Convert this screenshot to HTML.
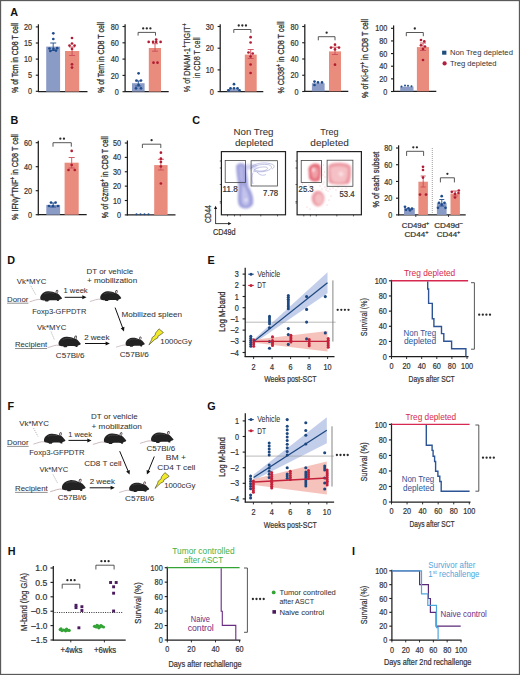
<!DOCTYPE html>
<html><head><meta charset="utf-8"><title>Figure</title>
<style>
html,body{margin:0;padding:0;background:#fff;}
body{width:520px;height:675px;overflow:hidden;}
svg{display:block;font-family:"Liberation Sans", sans-serif;}
text{font-family:"Liberation Sans", sans-serif;}
</style></head>
<body>
<svg width="520" height="675" viewBox="0 0 520 675">
<defs>
<filter id="bl1" x="-50%" y="-50%" width="200%" height="200%"><feGaussianBlur stdDeviation="1.6"/></filter>
<filter id="bl2" x="-50%" y="-50%" width="200%" height="200%"><feGaussianBlur stdDeviation="0.8"/></filter>
</defs>
<rect x="0" y="0" width="520" height="675" fill="#fff"/>
<text x="10.3" y="16.2" font-size="10.8" fill="#111" font-weight="bold" >A</text>
<line x1="38.4" y1="24.3" x2="38.4" y2="91.9" stroke="#1e1e1e" stroke-width="1.25" />
<line x1="35.8" y1="91.3" x2="38.4" y2="91.3" stroke="#1e1e1e" stroke-width="1.12" />
<text x="32.1" y="94.4" font-size="8.8" fill="#333" stroke="#333" stroke-width="0.22" text-anchor="end" textLength="4.05" lengthAdjust="spacingAndGlyphs" >0</text>
<line x1="35.8" y1="75.2" x2="38.4" y2="75.2" stroke="#1e1e1e" stroke-width="1.12" />
<text x="32.1" y="78.3" font-size="8.8" fill="#333" stroke="#333" stroke-width="0.22" text-anchor="end" textLength="4.05" lengthAdjust="spacingAndGlyphs" >5</text>
<line x1="35.8" y1="59.1" x2="38.4" y2="59.1" stroke="#1e1e1e" stroke-width="1.12" />
<text x="32.1" y="62.2" font-size="8.8" fill="#333" stroke="#333" stroke-width="0.22" text-anchor="end" textLength="8.1" lengthAdjust="spacingAndGlyphs" >10</text>
<line x1="35.8" y1="43" x2="38.4" y2="43" stroke="#1e1e1e" stroke-width="1.12" />
<text x="32.1" y="46.1" font-size="8.8" fill="#333" stroke="#333" stroke-width="0.22" text-anchor="end" textLength="8.1" lengthAdjust="spacingAndGlyphs" >15</text>
<line x1="35.8" y1="26.9" x2="38.4" y2="26.9" stroke="#1e1e1e" stroke-width="1.12" />
<text x="32.1" y="30" font-size="8.8" fill="#333" stroke="#333" stroke-width="0.22" text-anchor="end" textLength="8.1" lengthAdjust="spacingAndGlyphs" >20</text>
<line x1="37.9" y1="91.6" x2="87.5" y2="91.6" stroke="#1e1e1e" stroke-width="1.25" />
<rect x="46.2" y="46.6" width="13.9" height="45" fill="#8a9bc6" />
<rect x="65" y="51" width="14.2" height="40.6" fill="#e98b7d" />
<line x1="53.2" y1="50.5" x2="53.2" y2="43" stroke="#1f4c8c" stroke-width="0.9" />
<line x1="50.2" y1="43" x2="56.2" y2="43" stroke="#1f4c8c" stroke-width="0.9" />
<line x1="50.2" y1="50.5" x2="56.2" y2="50.5" stroke="#1f4c8c" stroke-width="0.9" />
<line x1="72.1" y1="55.5" x2="72.1" y2="47" stroke="#cc4d5a" stroke-width="0.9" />
<line x1="69.1" y1="47" x2="75.1" y2="47" stroke="#cc4d5a" stroke-width="0.9" />
<line x1="69.1" y1="55.5" x2="75.1" y2="55.5" stroke="#cc4d5a" stroke-width="0.9" />
<circle cx="53.3" cy="33.3" r="1.35" fill="#1f4c8c"/>
<circle cx="53.3" cy="39" r="1.35" fill="#1f4c8c"/>
<circle cx="49.5" cy="48.5" r="1.35" fill="#1f4c8c"/>
<circle cx="53.5" cy="49" r="1.35" fill="#1f4c8c"/>
<circle cx="57.2" cy="48.2" r="1.35" fill="#1f4c8c"/>
<circle cx="50.3" cy="51" r="1.35" fill="#1f4c8c"/>
<circle cx="56" cy="50.6" r="1.35" fill="#1f4c8c"/>
<circle cx="72" cy="38" r="1.35" fill="#b01d33"/>
<circle cx="72" cy="43.5" r="1.35" fill="#b01d33"/>
<circle cx="69.5" cy="45.6" r="1.35" fill="#b01d33"/>
<circle cx="74.6" cy="45.6" r="1.35" fill="#b01d33"/>
<circle cx="72" cy="49" r="1.35" fill="#b01d33"/>
<circle cx="72" cy="64.3" r="1.35" fill="#b01d33"/>
<circle cx="72" cy="67.6" r="1.35" fill="#b01d33"/>
<text x="17.8" y="58" font-size="9.6" fill="#333" stroke="#333" stroke-width="0.32" text-anchor="middle" textLength="70" lengthAdjust="spacingAndGlyphs" transform="rotate(-90 17.8 58)" >% of Tcm in CD8 T cell</text>
<line x1="125.1" y1="24.2" x2="125.1" y2="92.1" stroke="#1e1e1e" stroke-width="1.25" />
<line x1="122.5" y1="91.7" x2="125.1" y2="91.7" stroke="#1e1e1e" stroke-width="1.12" />
<text x="118.8" y="94.8" font-size="8.8" fill="#333" stroke="#333" stroke-width="0.22" text-anchor="end" textLength="4.05" lengthAdjust="spacingAndGlyphs" >0</text>
<line x1="122.5" y1="75.4" x2="125.1" y2="75.4" stroke="#1e1e1e" stroke-width="1.12" />
<text x="118.8" y="78.5" font-size="8.8" fill="#333" stroke="#333" stroke-width="0.22" text-anchor="end" textLength="8.1" lengthAdjust="spacingAndGlyphs" >20</text>
<line x1="122.5" y1="59.1" x2="125.1" y2="59.1" stroke="#1e1e1e" stroke-width="1.12" />
<text x="118.8" y="62.2" font-size="8.8" fill="#333" stroke="#333" stroke-width="0.22" text-anchor="end" textLength="8.1" lengthAdjust="spacingAndGlyphs" >40</text>
<line x1="122.5" y1="42.8" x2="125.1" y2="42.8" stroke="#1e1e1e" stroke-width="1.12" />
<text x="118.8" y="45.9" font-size="8.8" fill="#333" stroke="#333" stroke-width="0.22" text-anchor="end" textLength="8.1" lengthAdjust="spacingAndGlyphs" >60</text>
<line x1="122.5" y1="26.5" x2="125.1" y2="26.5" stroke="#1e1e1e" stroke-width="1.12" />
<text x="118.8" y="29.6" font-size="8.8" fill="#333" stroke="#333" stroke-width="0.22" text-anchor="end" textLength="8.1" lengthAdjust="spacingAndGlyphs" >80</text>
<line x1="124.8" y1="91.6" x2="168.7" y2="91.6" stroke="#1e1e1e" stroke-width="1.25" />
<rect x="132" y="83.2" width="12.6" height="8.4" fill="#8a9bc6" />
<rect x="148.8" y="48" width="12.2" height="43.6" fill="#e98b7d" />
<line x1="155" y1="51.2" x2="155" y2="43.7" stroke="#cc4d5a" stroke-width="0.9" />
<line x1="152" y1="43.7" x2="158" y2="43.7" stroke="#cc4d5a" stroke-width="0.9" />
<line x1="152" y1="51.2" x2="158" y2="51.2" stroke="#cc4d5a" stroke-width="0.9" />
<line x1="138.3" y1="86" x2="138.3" y2="81" stroke="#1f4c8c" stroke-width="0.9" />
<line x1="135.3" y1="81" x2="141.3" y2="81" stroke="#1f4c8c" stroke-width="0.9" />
<line x1="135.3" y1="86" x2="141.3" y2="86" stroke="#1f4c8c" stroke-width="0.9" />
<circle cx="148.7" cy="41.9" r="1.35" fill="#b01d33"/>
<circle cx="153.1" cy="41.9" r="1.35" fill="#b01d33"/>
<circle cx="156.2" cy="41.9" r="1.35" fill="#b01d33"/>
<circle cx="160.6" cy="41.9" r="1.35" fill="#b01d33"/>
<circle cx="156.2" cy="39.6" r="1.35" fill="#b01d33"/>
<circle cx="153.5" cy="62.7" r="1.35" fill="#b01d33"/>
<circle cx="157.5" cy="62.7" r="1.35" fill="#b01d33"/>
<circle cx="138.6" cy="73.3" r="1.35" fill="#1f4c8c"/>
<circle cx="136.5" cy="80.5" r="1.35" fill="#1f4c8c"/>
<circle cx="141" cy="80.5" r="1.35" fill="#1f4c8c"/>
<circle cx="138.6" cy="85" r="1.35" fill="#1f4c8c"/>
<circle cx="136" cy="88.3" r="1.35" fill="#1f4c8c"/>
<circle cx="141" cy="88.3" r="1.35" fill="#1f4c8c"/>
<polyline points="138.1,35.6 138.1,32.4 155.5,32.4 155.5,35.6" fill="none" stroke="#444" stroke-width="0.9" />
<circle cx="143.2" cy="28.4" r="1.15" fill="#2a2a2a"/>
<circle cx="146.8" cy="28.4" r="1.15" fill="#2a2a2a"/>
<circle cx="150.4" cy="28.4" r="1.15" fill="#2a2a2a"/>
<text x="104.4" y="57.5" font-size="9.6" fill="#333" stroke="#333" stroke-width="0.32" text-anchor="middle" textLength="71" lengthAdjust="spacingAndGlyphs" transform="rotate(-90 104.4 57.5)" >% of Tem in CD8 T cell</text>
<line x1="220.2" y1="24.3" x2="220.2" y2="92" stroke="#1e1e1e" stroke-width="1.25" />
<line x1="217.6" y1="91.6" x2="220.2" y2="91.6" stroke="#1e1e1e" stroke-width="1.12" />
<text x="213.9" y="94.7" font-size="8.8" fill="#333" stroke="#333" stroke-width="0.22" text-anchor="end" textLength="4.05" lengthAdjust="spacingAndGlyphs" >0</text>
<line x1="217.6" y1="69.9" x2="220.2" y2="69.9" stroke="#1e1e1e" stroke-width="1.12" />
<text x="213.9" y="73" font-size="8.8" fill="#333" stroke="#333" stroke-width="0.22" text-anchor="end" textLength="8.1" lengthAdjust="spacingAndGlyphs" >10</text>
<line x1="217.6" y1="48.2" x2="220.2" y2="48.2" stroke="#1e1e1e" stroke-width="1.12" />
<text x="213.9" y="51.3" font-size="8.8" fill="#333" stroke="#333" stroke-width="0.22" text-anchor="end" textLength="8.1" lengthAdjust="spacingAndGlyphs" >20</text>
<line x1="217.6" y1="26.5" x2="220.2" y2="26.5" stroke="#1e1e1e" stroke-width="1.12" />
<text x="213.9" y="29.6" font-size="8.8" fill="#333" stroke="#333" stroke-width="0.22" text-anchor="end" textLength="8.1" lengthAdjust="spacingAndGlyphs" >30</text>
<line x1="219.7" y1="91.5" x2="263.3" y2="91.5" stroke="#1e1e1e" stroke-width="1.25" />
<rect x="226.9" y="89.2" width="13.3" height="2.3" fill="#8a9bc6" />
<rect x="244.8" y="54.6" width="11.9" height="36.9" fill="#e98b7d" />
<line x1="250.7" y1="58.5" x2="250.7" y2="49.5" stroke="#cc4d5a" stroke-width="0.9" />
<line x1="247.7" y1="49.5" x2="253.7" y2="49.5" stroke="#cc4d5a" stroke-width="0.9" />
<line x1="247.7" y1="58.5" x2="253.7" y2="58.5" stroke="#cc4d5a" stroke-width="0.9" />
<circle cx="250.6" cy="37.2" r="1.35" fill="#b01d33"/>
<circle cx="250.6" cy="42.5" r="1.35" fill="#b01d33"/>
<circle cx="248.5" cy="52.5" r="1.35" fill="#b01d33"/>
<circle cx="252.7" cy="53.5" r="1.35" fill="#b01d33"/>
<circle cx="250.6" cy="56.5" r="1.35" fill="#b01d33"/>
<circle cx="250.6" cy="64.5" r="1.35" fill="#b01d33"/>
<circle cx="250.6" cy="73" r="1.35" fill="#b01d33"/>
<circle cx="234" cy="84.2" r="1.35" fill="#1f4c8c"/>
<circle cx="230.5" cy="88.3" r="1.35" fill="#1f4c8c"/>
<circle cx="234" cy="88.3" r="1.35" fill="#1f4c8c"/>
<circle cx="237.5" cy="88.3" r="1.35" fill="#1f4c8c"/>
<circle cx="228.5" cy="90.4" r="1.35" fill="#1f4c8c"/>
<circle cx="239.5" cy="90.4" r="1.35" fill="#1f4c8c"/>
<polyline points="233.8,32.9 233.8,29.5 250.9,29.5 250.9,32.9" fill="none" stroke="#444" stroke-width="0.9" />
<circle cx="238.75" cy="25.5" r="1.15" fill="#2a2a2a"/>
<circle cx="242.35" cy="25.5" r="1.15" fill="#2a2a2a"/>
<circle cx="245.95" cy="25.5" r="1.15" fill="#2a2a2a"/>
<text x="189.6" y="57.8" font-size="9.6" fill="#333" stroke="#333" stroke-width="0.22" text-anchor="middle" textLength="69" lengthAdjust="spacingAndGlyphs" transform="rotate(-90 189.6 57.8)" >% of DNAM-1<tspan baseline-shift="super" font-size="70%">+</tspan>TIGIT<tspan baseline-shift="super" font-size="70%">+</tspan></text>
<text x="199.8" y="57.8" font-size="9.6" fill="#333" stroke="#333" stroke-width="0.22" text-anchor="middle" textLength="40.8" lengthAdjust="spacingAndGlyphs" transform="rotate(-90 199.8 57.8)" >in CD8 T cell</text>
<line x1="304.8" y1="24.3" x2="304.8" y2="91.9" stroke="#1e1e1e" stroke-width="1.25" />
<line x1="302.2" y1="91.5" x2="304.8" y2="91.5" stroke="#1e1e1e" stroke-width="1.12" />
<text x="298.5" y="94.6" font-size="8.8" fill="#333" stroke="#333" stroke-width="0.22" text-anchor="end" textLength="4.05" lengthAdjust="spacingAndGlyphs" >0</text>
<line x1="302.2" y1="75.25" x2="304.8" y2="75.25" stroke="#1e1e1e" stroke-width="1.12" />
<text x="298.5" y="78.35" font-size="8.8" fill="#333" stroke="#333" stroke-width="0.22" text-anchor="end" textLength="8.1" lengthAdjust="spacingAndGlyphs" >20</text>
<line x1="302.2" y1="59" x2="304.8" y2="59" stroke="#1e1e1e" stroke-width="1.12" />
<text x="298.5" y="62.1" font-size="8.8" fill="#333" stroke="#333" stroke-width="0.22" text-anchor="end" textLength="8.1" lengthAdjust="spacingAndGlyphs" >40</text>
<line x1="302.2" y1="42.75" x2="304.8" y2="42.75" stroke="#1e1e1e" stroke-width="1.12" />
<text x="298.5" y="45.85" font-size="8.8" fill="#333" stroke="#333" stroke-width="0.22" text-anchor="end" textLength="8.1" lengthAdjust="spacingAndGlyphs" >60</text>
<line x1="302.2" y1="26.5" x2="304.8" y2="26.5" stroke="#1e1e1e" stroke-width="1.12" />
<text x="298.5" y="29.6" font-size="8.8" fill="#333" stroke="#333" stroke-width="0.22" text-anchor="end" textLength="8.1" lengthAdjust="spacingAndGlyphs" >80</text>
<line x1="304.3" y1="91.3" x2="348.3" y2="91.3" stroke="#1e1e1e" stroke-width="1.25" />
<rect x="311.9" y="83.2" width="12.7" height="8.1" fill="#8a9bc6" />
<rect x="329" y="51.4" width="12" height="39.9" fill="#e98b7d" />
<line x1="335" y1="54.5" x2="335" y2="47.2" stroke="#cc4d5a" stroke-width="0.9" />
<line x1="332" y1="47.2" x2="338" y2="47.2" stroke="#cc4d5a" stroke-width="0.9" />
<line x1="332" y1="54.5" x2="338" y2="54.5" stroke="#cc4d5a" stroke-width="0.9" />
<circle cx="335" cy="44.7" r="1.35" fill="#b01d33"/>
<circle cx="331" cy="47.6" r="1.35" fill="#b01d33"/>
<circle cx="335" cy="49.4" r="1.35" fill="#b01d33"/>
<circle cx="339" cy="47.6" r="1.35" fill="#b01d33"/>
<circle cx="335" cy="64.7" r="1.35" fill="#b01d33"/>
<circle cx="314.5" cy="81.6" r="1.35" fill="#1f4c8c"/>
<circle cx="318" cy="82.4" r="1.35" fill="#1f4c8c"/>
<circle cx="322" cy="82.4" r="1.35" fill="#1f4c8c"/>
<circle cx="314.5" cy="85" r="1.35" fill="#1f4c8c"/>
<polyline points="318.3,40.3 318.3,36.7 335,36.7 335,40.3" fill="none" stroke="#444" stroke-width="0.9" />
<circle cx="326.65" cy="32.7" r="1.15" fill="#2a2a2a"/>
<text x="284.4" y="57.5" font-size="9.6" fill="#333" stroke="#333" stroke-width="0.32" text-anchor="middle" textLength="72" lengthAdjust="spacingAndGlyphs" transform="rotate(-90 284.4 57.5)" >% CD38<tspan baseline-shift="super" font-size="70%">+</tspan> in CD8 T cell</text>
<line x1="393.6" y1="25.4" x2="393.6" y2="91.9" stroke="#1e1e1e" stroke-width="1.25" />
<line x1="391" y1="91.5" x2="393.6" y2="91.5" stroke="#1e1e1e" stroke-width="1.12" />
<text x="387.3" y="94.6" font-size="8.8" fill="#333" stroke="#333" stroke-width="0.22" text-anchor="end" textLength="4.05" lengthAdjust="spacingAndGlyphs" >0</text>
<line x1="391" y1="78.86" x2="393.6" y2="78.86" stroke="#1e1e1e" stroke-width="1.12" />
<text x="387.3" y="81.96" font-size="8.8" fill="#333" stroke="#333" stroke-width="0.22" text-anchor="end" textLength="8.1" lengthAdjust="spacingAndGlyphs" >20</text>
<line x1="391" y1="66.22" x2="393.6" y2="66.22" stroke="#1e1e1e" stroke-width="1.12" />
<text x="387.3" y="69.32" font-size="8.8" fill="#333" stroke="#333" stroke-width="0.22" text-anchor="end" textLength="8.1" lengthAdjust="spacingAndGlyphs" >40</text>
<line x1="391" y1="53.58" x2="393.6" y2="53.58" stroke="#1e1e1e" stroke-width="1.12" />
<text x="387.3" y="56.68" font-size="8.8" fill="#333" stroke="#333" stroke-width="0.22" text-anchor="end" textLength="8.1" lengthAdjust="spacingAndGlyphs" >60</text>
<line x1="391" y1="40.94" x2="393.6" y2="40.94" stroke="#1e1e1e" stroke-width="1.12" />
<text x="387.3" y="44.04" font-size="8.8" fill="#333" stroke="#333" stroke-width="0.22" text-anchor="end" textLength="8.1" lengthAdjust="spacingAndGlyphs" >80</text>
<line x1="391" y1="28.3" x2="393.6" y2="28.3" stroke="#1e1e1e" stroke-width="1.12" />
<text x="387.3" y="31.4" font-size="8.8" fill="#333" stroke="#333" stroke-width="0.22" text-anchor="end" textLength="12.15" lengthAdjust="spacingAndGlyphs" >100</text>
<line x1="393.3" y1="91.3" x2="436.3" y2="91.3" stroke="#1e1e1e" stroke-width="1.25" />
<rect x="400.2" y="86.7" width="13.3" height="4.6" fill="#8a9bc6" />
<rect x="416.9" y="47.1" width="12.1" height="44.2" fill="#e98b7d" />
<line x1="423" y1="50.5" x2="423" y2="43" stroke="#cc4d5a" stroke-width="0.9" />
<line x1="420" y1="43" x2="426" y2="43" stroke="#cc4d5a" stroke-width="0.9" />
<line x1="420" y1="50.5" x2="426" y2="50.5" stroke="#cc4d5a" stroke-width="0.9" />
<circle cx="421" cy="40" r="1.35" fill="#b01d33"/>
<circle cx="424.3" cy="41.4" r="1.35" fill="#b01d33"/>
<circle cx="421" cy="45.3" r="1.35" fill="#b01d33"/>
<circle cx="425" cy="46.5" r="1.35" fill="#b01d33"/>
<circle cx="423" cy="49" r="1.35" fill="#b01d33"/>
<circle cx="423" cy="60" r="1.35" fill="#b01d33"/>
<circle cx="401.5" cy="86.4" r="1" fill="#1f4c8c"/>
<circle cx="405" cy="85.4" r="1" fill="#1f4c8c"/>
<circle cx="408" cy="85.8" r="1" fill="#1f4c8c"/>
<circle cx="411.5" cy="86.2" r="1" fill="#1f4c8c"/>
<polyline points="406.3,36.2 406.3,32.5 423.3,32.5 423.3,36.2" fill="none" stroke="#444" stroke-width="0.9" />
<circle cx="414.8" cy="28.5" r="1.15" fill="#2a2a2a"/>
<text x="368.4" y="58.5" font-size="9.6" fill="#333" stroke="#333" stroke-width="0.32" text-anchor="middle" textLength="79" lengthAdjust="spacingAndGlyphs" transform="rotate(-90 368.4 58.5)" >% of Ki-67<tspan baseline-shift="super" font-size="70%">+</tspan> in CD8 T cell</text>
<rect x="442.1" y="50.7" width="4.3" height="4" fill="#1d4e7e" />
<text x="449.9" y="55.3" font-size="7.6" fill="#333" textLength="63" lengthAdjust="spacingAndGlyphs" >Non Treg depleted</text>
<circle cx="444.6" cy="63.4" r="2.1" fill="#b01f3c"/>
<text x="449.9" y="65.7" font-size="7.6" fill="#333" textLength="46.7" lengthAdjust="spacingAndGlyphs" >Treg depleted</text>
<text x="10.4" y="124.2" font-size="10.8" fill="#111" font-weight="bold" >B</text>
<line x1="38.3" y1="140.7" x2="38.3" y2="215.2" stroke="#1e1e1e" stroke-width="1.25" />
<line x1="35.7" y1="214.7" x2="38.3" y2="214.7" stroke="#1e1e1e" stroke-width="1.12" />
<text x="32" y="217.8" font-size="8.8" fill="#333" stroke="#333" stroke-width="0.22" text-anchor="end" textLength="4.05" lengthAdjust="spacingAndGlyphs" >0</text>
<line x1="35.7" y1="190.7" x2="38.3" y2="190.7" stroke="#1e1e1e" stroke-width="1.12" />
<text x="32" y="193.8" font-size="8.8" fill="#333" stroke="#333" stroke-width="0.22" text-anchor="end" textLength="8.1" lengthAdjust="spacingAndGlyphs" >20</text>
<line x1="35.7" y1="166.7" x2="38.3" y2="166.7" stroke="#1e1e1e" stroke-width="1.12" />
<text x="32" y="169.8" font-size="8.8" fill="#333" stroke="#333" stroke-width="0.22" text-anchor="end" textLength="8.1" lengthAdjust="spacingAndGlyphs" >40</text>
<line x1="35.7" y1="142.7" x2="38.3" y2="142.7" stroke="#1e1e1e" stroke-width="1.12" />
<text x="32" y="145.8" font-size="8.8" fill="#333" stroke="#333" stroke-width="0.22" text-anchor="end" textLength="8.1" lengthAdjust="spacingAndGlyphs" >60</text>
<line x1="37.8" y1="214.7" x2="86.7" y2="214.7" stroke="#1e1e1e" stroke-width="1.25" />
<rect x="46.3" y="204.9" width="13.8" height="9.8" fill="#8a9bc6" />
<rect x="64.6" y="162.7" width="14.1" height="52" fill="#e98b7d" />
<line x1="71.7" y1="168" x2="71.7" y2="157.5" stroke="#cc4d5a" stroke-width="0.9" />
<line x1="68.7" y1="157.5" x2="74.7" y2="157.5" stroke="#cc4d5a" stroke-width="0.9" />
<line x1="68.7" y1="168" x2="74.7" y2="168" stroke="#cc4d5a" stroke-width="0.9" />
<line x1="53.2" y1="207" x2="53.2" y2="203" stroke="#1f4c8c" stroke-width="0.9" />
<line x1="50.2" y1="203" x2="56.2" y2="203" stroke="#1f4c8c" stroke-width="0.9" />
<line x1="50.2" y1="207" x2="56.2" y2="207" stroke="#1f4c8c" stroke-width="0.9" />
<circle cx="71.7" cy="150.9" r="1.35" fill="#b01d33"/>
<circle cx="71.7" cy="165" r="1.35" fill="#b01d33"/>
<circle cx="68.5" cy="170" r="1.35" fill="#b01d33"/>
<circle cx="74.8" cy="170" r="1.35" fill="#b01d33"/>
<circle cx="51" cy="202.5" r="1.35" fill="#1f4c8c"/>
<circle cx="55.6" cy="202.5" r="1.35" fill="#1f4c8c"/>
<circle cx="49" cy="206" r="1.35" fill="#1f4c8c"/>
<circle cx="53" cy="206" r="1.35" fill="#1f4c8c"/>
<circle cx="58" cy="206" r="1.35" fill="#1f4c8c"/>
<polyline points="53,146.7 53,142.7 71.3,142.7 71.3,146.7" fill="none" stroke="#444" stroke-width="0.9" />
<circle cx="60.35" cy="138.7" r="1.15" fill="#2a2a2a"/>
<circle cx="63.95" cy="138.7" r="1.15" fill="#2a2a2a"/>
<text x="18.2" y="177" font-size="9.6" fill="#333" stroke="#333" stroke-width="0.32" text-anchor="middle" textLength="85.8" lengthAdjust="spacingAndGlyphs" transform="rotate(-90 18.2 177)" >% IFNγ<tspan baseline-shift="super" font-size="70%">+</tspan>TNF<tspan baseline-shift="super" font-size="70%">+</tspan> in CD8 T cell</text>
<line x1="127.4" y1="140.5" x2="127.4" y2="215.4" stroke="#1e1e1e" stroke-width="1.25" />
<line x1="124.8" y1="214.9" x2="127.4" y2="214.9" stroke="#1e1e1e" stroke-width="1.12" />
<text x="121.1" y="218" font-size="8.8" fill="#333" stroke="#333" stroke-width="0.22" text-anchor="end" textLength="4.05" lengthAdjust="spacingAndGlyphs" >0</text>
<line x1="124.8" y1="200.52" x2="127.4" y2="200.52" stroke="#1e1e1e" stroke-width="1.12" />
<text x="121.1" y="203.62" font-size="8.8" fill="#333" stroke="#333" stroke-width="0.22" text-anchor="end" textLength="8.1" lengthAdjust="spacingAndGlyphs" >10</text>
<line x1="124.8" y1="186.14" x2="127.4" y2="186.14" stroke="#1e1e1e" stroke-width="1.12" />
<text x="121.1" y="189.24" font-size="8.8" fill="#333" stroke="#333" stroke-width="0.22" text-anchor="end" textLength="8.1" lengthAdjust="spacingAndGlyphs" >20</text>
<line x1="124.8" y1="171.76" x2="127.4" y2="171.76" stroke="#1e1e1e" stroke-width="1.12" />
<text x="121.1" y="174.86" font-size="8.8" fill="#333" stroke="#333" stroke-width="0.22" text-anchor="end" textLength="8.1" lengthAdjust="spacingAndGlyphs" >30</text>
<line x1="124.8" y1="157.38" x2="127.4" y2="157.38" stroke="#1e1e1e" stroke-width="1.12" />
<text x="121.1" y="160.48" font-size="8.8" fill="#333" stroke="#333" stroke-width="0.22" text-anchor="end" textLength="8.1" lengthAdjust="spacingAndGlyphs" >40</text>
<line x1="124.8" y1="143" x2="127.4" y2="143" stroke="#1e1e1e" stroke-width="1.12" />
<text x="121.1" y="146.1" font-size="8.8" fill="#333" stroke="#333" stroke-width="0.22" text-anchor="end" textLength="8.1" lengthAdjust="spacingAndGlyphs" >50</text>
<line x1="126.9" y1="214.9" x2="175.5" y2="214.9" stroke="#1e1e1e" stroke-width="1.25" />
<rect x="154.2" y="165.1" width="13.4" height="49.8" fill="#e98b7d" />
<line x1="160.9" y1="170" x2="160.9" y2="159.3" stroke="#cc4d5a" stroke-width="0.9" />
<line x1="157.9" y1="159.3" x2="163.9" y2="159.3" stroke="#cc4d5a" stroke-width="0.9" />
<line x1="157.9" y1="170" x2="163.9" y2="170" stroke="#cc4d5a" stroke-width="0.9" />
<circle cx="160.9" cy="152.7" r="1.35" fill="#b01d33"/>
<circle cx="160.9" cy="158.7" r="1.35" fill="#b01d33"/>
<circle cx="160.9" cy="162" r="1.35" fill="#b01d33"/>
<circle cx="160.9" cy="166.5" r="1.35" fill="#b01d33"/>
<circle cx="160.9" cy="183.5" r="1.35" fill="#b01d33"/>
<circle cx="136.5" cy="214.3" r="1" fill="#1f4c8c"/>
<circle cx="140.5" cy="214.3" r="1" fill="#1f4c8c"/>
<circle cx="144.5" cy="214.3" r="1" fill="#1f4c8c"/>
<circle cx="148.5" cy="214.3" r="1" fill="#1f4c8c"/>
<polyline points="142.4,148 142.4,144.2 160.8,144.2 160.8,148" fill="none" stroke="#444" stroke-width="0.9" />
<circle cx="151.6" cy="140.2" r="1.15" fill="#2a2a2a"/>
<text x="107.6" y="177.2" font-size="9.6" fill="#333" stroke="#333" stroke-width="0.32" text-anchor="middle" textLength="82" lengthAdjust="spacingAndGlyphs" transform="rotate(-90 107.6 177.2)" >% of GzmB<tspan baseline-shift="super" font-size="70%">+</tspan> in CD8 T cell</text>
<text x="192.3" y="124.4" font-size="10.8" fill="#111" font-weight="bold" >C</text>
<text x="253.5" y="134.7" font-size="8.6" fill="#333" stroke="#333" stroke-width="0.05" text-anchor="middle" textLength="39.9" lengthAdjust="spacingAndGlyphs" >Non Treg</text>
<text x="254.2" y="145.8" font-size="8.6" fill="#333" stroke="#333" stroke-width="0.05" text-anchor="middle" textLength="38.3" lengthAdjust="spacingAndGlyphs" >depleted</text>
<text x="329.4" y="134.7" font-size="8.6" fill="#333" stroke="#333" stroke-width="0.05" text-anchor="middle" textLength="18.4" lengthAdjust="spacingAndGlyphs" >Treg</text>
<text x="329.6" y="145.8" font-size="8.6" fill="#333" stroke="#333" stroke-width="0.05" text-anchor="middle" textLength="38.6" lengthAdjust="spacingAndGlyphs" >depleted</text>
<g filter="url(#bl2)"><path d="M236.2,167 C236,162.8 243,162.2 245.2,165 C247,170 247.5,180 248.5,187 C251.5,191 253.8,197 253.2,203 C252.4,209.5 240.5,210.5 238.6,204.5 C237,199 238.5,192 238.5,186 C237.5,180 236.3,173 236.2,167 Z" fill="#9799d9" opacity="0.92"/><path d="M242.5,184 C245.5,188 249.5,195 249.2,201.5 C249,206.5 243,207 242,202 C241,196 242,190 242.5,184 Z" fill="#c6c7ee" opacity="0.9"/><path d="M239.3,168 C239.5,165 242.5,165 243,168 L243.8,181 C242,183 240,181 239.6,177 Z" fill="#bdbeea" opacity="0.75"/><path d="M245,165 C250,163 256,164 258,167 C255,170 249,170 245,169 Z" fill="#b7b9e6" opacity="0.6"/></g>
<circle cx="246" cy="200" r="1.3" fill="#fff" opacity="0.8" filter="url(#bl2)"/>
<g fill="none" stroke="#6466bb" stroke-width="0.45" opacity="0.85"><path d="M250.5,168.5 C254,165.5 261,164 267,164.5 C271,165 273,167 270,169.5 C266,172 258,172.5 253,171"/><path d="M254,170 C257,167.5 262,166.5 266,167 C268.5,167.5 268,169.5 265,170.5 C261,171.5 257,171 254,170"/><path d="M252,166 C258,162.5 266,162 273,164.5 C275,166 274,168 272,169"/><path d="M253,172.5 C252,176 251.5,180 253,184"/><path d="M257,172 C259,175 263,176 266,174.5"/></g>
<rect x="221.4" y="151.6" width="64.1" height="63.2" fill="none" stroke="#222" stroke-width="1.2" />
<line x1="219.8" y1="161" x2="221.4" y2="161" stroke="#222" stroke-width="0.7" />
<line x1="219.8" y1="168" x2="221.4" y2="168" stroke="#222" stroke-width="0.7" />
<line x1="219.8" y1="184.5" x2="221.4" y2="184.5" stroke="#222" stroke-width="0.7" />
<line x1="219.8" y1="201.6" x2="221.4" y2="201.6" stroke="#222" stroke-width="0.7" />
<line x1="219.8" y1="203" x2="221.4" y2="203" stroke="#222" stroke-width="0.7" />
<line x1="227.5" y1="214.8" x2="227.5" y2="216.4" stroke="#222" stroke-width="0.7" />
<line x1="234.5" y1="214.8" x2="234.5" y2="216.4" stroke="#222" stroke-width="0.7" />
<line x1="240.3" y1="214.8" x2="240.3" y2="216.4" stroke="#222" stroke-width="0.7" />
<line x1="260.8" y1="214.8" x2="260.8" y2="216.4" stroke="#222" stroke-width="0.7" />
<line x1="277.5" y1="214.8" x2="277.5" y2="216.4" stroke="#222" stroke-width="0.7" />
<rect x="225.2" y="160.5" width="20.3" height="21.9" fill="none" stroke="#444" stroke-width="0.8" />
<rect x="251.1" y="160.7" width="26.4" height="25.3" fill="none" stroke="#444" stroke-width="0.8" />
<text x="222.6" y="191.7" font-size="8.6" fill="#333" stroke="#333" stroke-width="0.22" textLength="15" lengthAdjust="spacingAndGlyphs" >11.8</text>
<text x="263.1" y="196.1" font-size="8.6" fill="#333" stroke="#333" stroke-width="0.22" textLength="15.1" lengthAdjust="spacingAndGlyphs" >7.78</text>
<g filter="url(#bl2)"><path d="M308.5,170 C308,163.5 318,161.5 320.3,166 C321.3,170 321,177 319.5,180.5 C317,182.5 310.5,182 309,178 Z" fill="#e45e6e" opacity="0.9"/><path d="M311.5,171 C311.5,166.5 317,166 318,169.5 C318.5,173 318,177 315.8,178.5 C313,179 311.5,176 311.5,171 Z" fill="#f1a3ab" opacity="0.95"/><path d="M328.5,166 C329,161.5 348,161.5 350.6,166 C351.5,172 351,180 349,183.5 C345,185 332,185 329,182.5 C328,177 328,171 328.5,166 Z" fill="#e9808c" opacity="0.8"/><path d="M330.5,168.5 C331.5,165.5 345,165.5 347.5,168.5 C348,173 347,179 345,181.5 C340.5,182.8 334,182.8 332,180.5 C330.8,176.5 330.5,172.5 330.5,168.5 Z" fill="#f5c4c8" opacity="0.95"/><ellipse cx="318" cy="198.6" rx="6.4" ry="7.8" fill="#e98590" opacity="0.8"/><ellipse cx="319" cy="199" rx="3.8" ry="5.2" fill="#f5c3c7" opacity="0.9"/></g>
<ellipse cx="313.4" cy="169.8" rx="1.1" ry="2.4" fill="#fff" opacity="0.9" filter="url(#bl2)"/>
<ellipse cx="341" cy="174" rx="2.4" ry="2.4" fill="#fff" opacity="0.45" filter="url(#bl2)"/>
<g fill="#df6f7c" opacity="0.55"><circle cx="323" cy="184" r="0.5"/><circle cx="325" cy="187" r="0.5"/><circle cx="322" cy="189" r="0.5"/><circle cx="326" cy="190" r="0.5"/><circle cx="324" cy="182" r="0.5"/><circle cx="327" cy="188" r="0.5"/><circle cx="320" cy="186" r="0.5"/><circle cx="328" cy="191" r="0.5"/><circle cx="330" cy="189" r="0.5"/><circle cx="333" cy="188" r="0.5"/><circle cx="336" cy="190" r="0.5"/><circle cx="338" cy="187" r="0.5"/><circle cx="342" cy="189" r="0.5"/><circle cx="346" cy="188" r="0.5"/><circle cx="323.5" cy="165" r="0.5"/><circle cx="324.5" cy="172" r="0.5"/><circle cx="325" cy="177" r="0.5"/><circle cx="323" cy="175" r="0.5"/><circle cx="302.5" cy="184" r="0.5"/><circle cx="305" cy="186" r="0.5"/><circle cx="309" cy="185" r="0.5"/><circle cx="312" cy="187" r="0.5"/><circle cx="307" cy="207" r="0.5"/><circle cx="310" cy="209" r="0.5"/><circle cx="327" cy="205" r="0.5"/><circle cx="329" cy="200" r="0.5"/><circle cx="331" cy="196" r="0.5"/></g>
<rect x="297.1" y="151.6" width="64.3" height="63.2" fill="none" stroke="#222" stroke-width="1.2" />
<line x1="295.5" y1="161" x2="297.1" y2="161" stroke="#222" stroke-width="0.7" />
<line x1="295.5" y1="168" x2="297.1" y2="168" stroke="#222" stroke-width="0.7" />
<line x1="295.5" y1="184.5" x2="297.1" y2="184.5" stroke="#222" stroke-width="0.7" />
<line x1="295.5" y1="201.6" x2="297.1" y2="201.6" stroke="#222" stroke-width="0.7" />
<line x1="295.5" y1="203" x2="297.1" y2="203" stroke="#222" stroke-width="0.7" />
<line x1="303.8" y1="214.8" x2="303.8" y2="216.4" stroke="#222" stroke-width="0.7" />
<line x1="310.4" y1="214.8" x2="310.4" y2="216.4" stroke="#222" stroke-width="0.7" />
<line x1="316.3" y1="214.8" x2="316.3" y2="216.4" stroke="#222" stroke-width="0.7" />
<line x1="336.8" y1="214.8" x2="336.8" y2="216.4" stroke="#222" stroke-width="0.7" />
<line x1="353.5" y1="214.8" x2="353.5" y2="216.4" stroke="#222" stroke-width="0.7" />
<rect x="301.2" y="160.5" width="20.3" height="21.9" fill="none" stroke="#444" stroke-width="0.8" />
<rect x="327.1" y="160.2" width="25.8" height="26.1" fill="none" stroke="#444" stroke-width="0.8" />
<text x="298.6" y="191.7" font-size="8.6" fill="#333" stroke="#333" stroke-width="0.22" textLength="15" lengthAdjust="spacingAndGlyphs" >25.3</text>
<text x="339.5" y="196.9" font-size="8.6" fill="#333" stroke="#333" stroke-width="0.22" textLength="15.1" lengthAdjust="spacingAndGlyphs" >53.4</text>
<line x1="215.6" y1="223.6" x2="215.6" y2="208.5" stroke="#111" stroke-width="0.8" />
<polygon points="215.6,205.8 217.2,209 214,209" fill="#111" />
<line x1="215.2" y1="223.6" x2="228.7" y2="223.6" stroke="#111" stroke-width="0.8" />
<polygon points="231.4,223.6 228.2,225.2 228.2,222" fill="#111" />
<text x="210.6" y="214" font-size="9.6" fill="#333" stroke="#333" stroke-width="0.22" text-anchor="middle" textLength="18" lengthAdjust="spacingAndGlyphs" transform="rotate(-90 210.6 214)" >CD44</text>
<text x="212.9" y="235" font-size="9.6" fill="#333" stroke="#333" stroke-width="0.22" textLength="22.6" lengthAdjust="spacingAndGlyphs" >CD49d</text>
<line x1="398.6" y1="145.3" x2="398.6" y2="215.4" stroke="#1e1e1e" stroke-width="1.25" />
<line x1="396" y1="214.9" x2="398.6" y2="214.9" stroke="#1e1e1e" stroke-width="1.12" />
<text x="392.3" y="218" font-size="8.8" fill="#333" stroke="#333" stroke-width="0.22" text-anchor="end" textLength="4.05" lengthAdjust="spacingAndGlyphs" >0</text>
<line x1="396" y1="198.18" x2="398.6" y2="198.18" stroke="#1e1e1e" stroke-width="1.12" />
<text x="392.3" y="201.28" font-size="8.8" fill="#333" stroke="#333" stroke-width="0.22" text-anchor="end" textLength="8.1" lengthAdjust="spacingAndGlyphs" >20</text>
<line x1="396" y1="181.45" x2="398.6" y2="181.45" stroke="#1e1e1e" stroke-width="1.12" />
<text x="392.3" y="184.55" font-size="8.8" fill="#333" stroke="#333" stroke-width="0.22" text-anchor="end" textLength="8.1" lengthAdjust="spacingAndGlyphs" >40</text>
<line x1="396" y1="164.72" x2="398.6" y2="164.72" stroke="#1e1e1e" stroke-width="1.12" />
<text x="392.3" y="167.82" font-size="8.8" fill="#333" stroke="#333" stroke-width="0.22" text-anchor="end" textLength="8.1" lengthAdjust="spacingAndGlyphs" >60</text>
<line x1="396" y1="148" x2="398.6" y2="148" stroke="#1e1e1e" stroke-width="1.12" />
<text x="392.3" y="151.1" font-size="8.8" fill="#333" stroke="#333" stroke-width="0.22" text-anchor="end" textLength="8.1" lengthAdjust="spacingAndGlyphs" >80</text>
<line x1="398.1" y1="214.9" x2="465.7" y2="214.9" stroke="#1e1e1e" stroke-width="1.25" />
<line x1="415.8" y1="214.9" x2="415.8" y2="217" stroke="#1e1e1e" stroke-width="0.8" />
<line x1="448.5" y1="214.9" x2="448.5" y2="217" stroke="#1e1e1e" stroke-width="0.8" />
<rect x="404" y="208.1" width="10.8" height="6.8" fill="#8a9bc6" />
<rect x="418.4" y="181.7" width="9.5" height="33.2" fill="#e98b7d" />
<rect x="436.9" y="203.1" width="9.7" height="11.8" fill="#8a9bc6" />
<rect x="450.5" y="193.6" width="9.4" height="21.3" fill="#e98b7d" />
<line x1="432.3" y1="148" x2="432.3" y2="214.5" stroke="#555" stroke-width="0.7" stroke-dasharray="0.8 1.2"/>
<line x1="423.2" y1="187" x2="423.2" y2="176" stroke="#cc4d5a" stroke-width="0.9" />
<line x1="420.7" y1="176" x2="425.7" y2="176" stroke="#cc4d5a" stroke-width="0.9" />
<line x1="420.7" y1="187" x2="425.7" y2="187" stroke="#cc4d5a" stroke-width="0.9" />
<line x1="441.8" y1="206" x2="441.8" y2="199.5" stroke="#1f4c8c" stroke-width="0.9" />
<line x1="439.3" y1="199.5" x2="444.3" y2="199.5" stroke="#1f4c8c" stroke-width="0.9" />
<line x1="439.3" y1="206" x2="444.3" y2="206" stroke="#1f4c8c" stroke-width="0.9" />
<line x1="455.2" y1="196" x2="455.2" y2="191" stroke="#cc4d5a" stroke-width="0.9" />
<line x1="452.7" y1="191" x2="457.7" y2="191" stroke="#cc4d5a" stroke-width="0.9" />
<line x1="452.7" y1="196" x2="457.7" y2="196" stroke="#cc4d5a" stroke-width="0.9" />
<circle cx="423" cy="166.8" r="1.35" fill="#b01d33"/>
<circle cx="423" cy="170" r="1.35" fill="#b01d33"/>
<circle cx="423" cy="177.6" r="1.35" fill="#b01d33"/>
<circle cx="420" cy="194.6" r="1.35" fill="#b01d33"/>
<circle cx="426" cy="194.6" r="1.35" fill="#b01d33"/>
<circle cx="405" cy="206.8" r="1.35" fill="#1f4c8c"/>
<circle cx="408.5" cy="208.3" r="1.35" fill="#1f4c8c"/>
<circle cx="412" cy="208.7" r="1.35" fill="#1f4c8c"/>
<circle cx="406" cy="209.8" r="1.35" fill="#1f4c8c"/>
<circle cx="410" cy="210.3" r="1.35" fill="#1f4c8c"/>
<circle cx="441.7" cy="196.2" r="1.35" fill="#1f4c8c"/>
<circle cx="439" cy="202.8" r="1.35" fill="#1f4c8c"/>
<circle cx="444.5" cy="202.8" r="1.35" fill="#1f4c8c"/>
<circle cx="441.7" cy="204.5" r="1.35" fill="#1f4c8c"/>
<circle cx="438" cy="207.8" r="1.35" fill="#1f4c8c"/>
<circle cx="445.5" cy="207.8" r="1.35" fill="#1f4c8c"/>
<circle cx="451.8" cy="191.8" r="1.35" fill="#b01d33"/>
<circle cx="455" cy="193.8" r="1.35" fill="#b01d33"/>
<circle cx="458.8" cy="190.5" r="1.35" fill="#b01d33"/>
<circle cx="455" cy="197.5" r="1.35" fill="#b01d33"/>
<circle cx="458.5" cy="193" r="1.35" fill="#b01d33"/>
<polyline points="406.6,155.9 406.6,151.3 423.6,151.3 423.6,155.9" fill="none" stroke="#444" stroke-width="0.9" />
<circle cx="413.3" cy="147.3" r="1.15" fill="#2a2a2a"/>
<circle cx="416.9" cy="147.3" r="1.15" fill="#2a2a2a"/>
<polyline points="440.4,182.4 440.4,177.8 454.4,177.8 454.4,182.4" fill="none" stroke="#444" stroke-width="0.9" />
<circle cx="447.4" cy="173.8" r="1.15" fill="#2a2a2a"/>
<text x="379.4" y="179.6" font-size="9.6" fill="#333" stroke="#333" stroke-width="0.32" text-anchor="middle" textLength="55.7" lengthAdjust="spacingAndGlyphs" transform="rotate(-90 379.4 179.6)" >% of each subset</text>
<text x="415.5" y="227.7" font-size="7.4" fill="#333" stroke="#333" stroke-width="0.22" text-anchor="middle" textLength="27.3" lengthAdjust="spacingAndGlyphs" >CD49d<tspan baseline-shift="super" font-size="70%">+</tspan></text>
<text x="416.5" y="236.9" font-size="7.4" fill="#333" stroke="#333" stroke-width="0.22" text-anchor="middle" textLength="24" lengthAdjust="spacingAndGlyphs" >CD44<tspan baseline-shift="super" font-size="70%">+</tspan></text>
<text x="448.4" y="227.7" font-size="7.4" fill="#333" stroke="#333" stroke-width="0.22" text-anchor="middle" textLength="28.5" lengthAdjust="spacingAndGlyphs" >CD49d<tspan baseline-shift="super" font-size="70%">&#8211;</tspan></text>
<text x="448.6" y="236.9" font-size="7.4" fill="#333" stroke="#333" stroke-width="0.22" text-anchor="middle" textLength="23.6" lengthAdjust="spacingAndGlyphs" >CD44<tspan baseline-shift="super" font-size="70%">+</tspan></text>
<text x="7.2" y="264.2" font-size="10.8" fill="#111" font-weight="bold" >D</text>
<text x="16.8" y="283.5" font-size="8.1" fill="#333" stroke="#333" stroke-width="0.05" textLength="29.7" lengthAdjust="spacingAndGlyphs" >Vk*MYC</text>
<line x1="30.8" y1="285.8" x2="35.6" y2="294.5" stroke="#999" stroke-width="0.7" stroke-dasharray="1.2 1"/>
<text x="7.1" y="301.5" font-size="8.1" fill="#333" stroke="#333" stroke-width="0.05" textLength="21.3" lengthAdjust="spacingAndGlyphs" >Donor</text>
<line x1="7.1" y1="303.2" x2="28.4" y2="303.2" stroke="#444" stroke-width="0.6" />
<path d="M40.82,299.54 C37.05,298.71 34,300.78 29.93,301.72" fill="none" stroke="#c8b6ba" stroke-width="0.92" stroke-linecap="round"/>
<path d="M40.62,299.54 C39.19,296.42 42.25,291.65 47.75,291.23 C50.8,291.02 53.65,291.85 55.48,292.89 C56.91,293 58.13,293.62 59.15,294.66 C60.37,296.01 61.49,297.25 62.1,298.19 L61.39,298.92 C60.47,299.12 59.45,299.54 58.74,300.16 L58.95,301.1 L57.32,301.1 L56.71,300.37 C53.85,300.16 50.8,300.16 48.76,300.47 L48.15,301.41 L45.51,301.41 L44.89,300.58 C43.06,300.58 41.43,300.27 40.62,299.54 Z" fill="#222" />
<path d="M44.18,293.93 C47.24,292.48 50.8,292.27 53.85,293.31" fill="none" stroke="#474747" stroke-width="0.81" />
<ellipse cx="56.91" cy="291.85" rx="1.27" ry="2.04" fill="#2a2a2a" transform="rotate(18 56.91 291.85)"/>
<ellipse cx="57.01" cy="291.95" rx="0.71" ry="1.43" fill="#dcc8cc" transform="rotate(18 56.91 291.85)"/>
<text x="63.5" y="292.5" font-size="8.1" fill="#333" stroke="#333" stroke-width="0.05" textLength="24.2" lengthAdjust="spacingAndGlyphs" >1 week</text>
<line x1="64.7" y1="297.3" x2="82.8" y2="297.3" stroke="#111" stroke-width="1" />
<polygon points="86.5,297.3 82.3,299.3 82.3,295.3" fill="#111" />
<text x="32.3" y="314" font-size="8.1" fill="#333" stroke="#333" stroke-width="0.05" textLength="54" lengthAdjust="spacingAndGlyphs" >Foxp3-GFPDTR</text>
<text x="86.5" y="274" font-size="8.1" fill="#333" stroke="#333" stroke-width="0.05" textLength="46.6" lengthAdjust="spacingAndGlyphs" >DT or vehicle</text>
<text x="86.9" y="283.2" font-size="8.1" fill="#333" stroke="#333" stroke-width="0.05" textLength="50.3" lengthAdjust="spacingAndGlyphs" >+ mobilization</text>
<path d="M100.78,299.3 C97.15,298.5 94.2,300.5 90.27,301.4" fill="none" stroke="#c8b6ba" stroke-width="0.88" stroke-linecap="round"/>
<path d="M100.58,299.3 C99.21,296.29 102.15,291.69 107.45,291.29 C110.4,291.09 113.15,291.89 114.92,292.89 C116.29,292.99 117.47,293.59 118.45,294.59 C119.63,295.89 120.71,297.09 121.3,298 L120.61,298.7 C119.73,298.9 118.75,299.3 118.06,299.9 L118.25,300.8 L116.68,300.8 L116.09,300.1 C113.35,299.9 110.4,299.9 108.44,300.2 L107.85,301.1 L105.29,301.1 L104.71,300.3 C102.94,300.3 101.37,300 100.58,299.3 Z" fill="#222" />
<path d="M104.02,293.89 C106.96,292.49 110.4,292.29 113.35,293.29" fill="none" stroke="#474747" stroke-width="0.79" />
<ellipse cx="116.29" cy="291.89" rx="1.23" ry="1.96" fill="#2a2a2a" transform="rotate(18 116.29 291.89)"/>
<ellipse cx="116.39" cy="291.99" rx="0.69" ry="1.37" fill="#dcc8cc" transform="rotate(18 116.29 291.89)"/>
<text x="121.5" y="317.3" font-size="8.1" fill="#333" stroke="#333" stroke-width="0.05" textLength="60.5" lengthAdjust="spacingAndGlyphs" >Mobilized spleen</text>
<line x1="115.1" y1="307.6" x2="122.71" y2="328.03" stroke="#111" stroke-width="1" />
<polygon points="124,331.5 120.66,328.26 124.41,326.87" fill="#111" />
<text x="36.9" y="329.5" font-size="8.1" fill="#333" stroke="#333" stroke-width="0.05" textLength="29.4" lengthAdjust="spacingAndGlyphs" >Vk*MYC</text>
<line x1="51" y1="331.5" x2="54.5" y2="340" stroke="#999" stroke-width="0.7" stroke-dasharray="1.2 1"/>
<text x="15" y="346.8" font-size="8.1" fill="#333" stroke="#333" stroke-width="0.05" textLength="32.1" lengthAdjust="spacingAndGlyphs" >Recipient</text>
<line x1="15" y1="348.5" x2="47.1" y2="348.5" stroke="#444" stroke-width="0.6" />
<path d="M59.14,345.31 C55.31,344.46 52.2,346.58 48.05,347.53" fill="none" stroke="#c8b6ba" stroke-width="0.93" stroke-linecap="round"/>
<path d="M58.94,345.31 C57.49,342.14 60.59,337.27 66.19,336.85 C69.3,336.64 72.2,337.49 74.07,338.54 C75.52,338.65 76.76,339.28 77.8,340.34 C79.04,341.71 80.18,342.98 80.8,343.93 L80.08,344.67 C79.15,344.89 78.11,345.31 77.38,345.94 L77.59,346.89 L75.93,346.89 L75.31,346.15 C72.41,345.94 69.3,345.94 67.23,346.26 L66.61,347.21 L63.91,347.21 L63.29,346.37 C61.42,346.37 59.77,346.05 58.94,345.31 Z" fill="#222" />
<path d="M62.56,339.6 C65.67,338.12 69.3,337.91 72.41,338.97" fill="none" stroke="#474747" stroke-width="0.83" />
<ellipse cx="75.52" cy="337.49" rx="1.3" ry="2.07" fill="#2a2a2a" transform="rotate(18 75.52 337.49)"/>
<ellipse cx="75.62" cy="337.59" rx="0.73" ry="1.45" fill="#dcc8cc" transform="rotate(18 75.52 337.49)"/>
<text x="55.8" y="357.8" font-size="8.1" fill="#333" stroke="#333" stroke-width="0.05" textLength="28.8" lengthAdjust="spacingAndGlyphs" >C57Bl/6</text>
<text x="84.2" y="340.1" font-size="8.1" fill="#333" stroke="#333" stroke-width="0.05" textLength="25.3" lengthAdjust="spacingAndGlyphs" >2 week</text>
<line x1="85" y1="343.5" x2="106.1" y2="343.5" stroke="#111" stroke-width="1" />
<polygon points="109.8,343.5 105.6,345.5 105.6,341.5" fill="#111" />
<path d="M126.08,345.13 C122.75,344.4 120.05,346.23 116.45,347.06" fill="none" stroke="#c8b6ba" stroke-width="0.81" stroke-linecap="round"/>
<path d="M125.9,345.13 C124.64,342.38 127.34,338.15 132.2,337.79 C134.9,337.6 137.42,338.34 139.04,339.26 C140.3,339.35 141.38,339.9 142.28,340.82 C143.36,342.01 144.35,343.11 144.89,343.94 L144.26,344.58 C143.45,344.76 142.55,345.13 141.92,345.68 L142.1,346.51 L140.66,346.51 L140.12,345.87 C137.6,345.68 134.9,345.68 133.1,345.96 L132.56,346.78 L130.22,346.78 L129.68,346.05 C128.06,346.05 126.62,345.77 125.9,345.13 Z" fill="#222" />
<path d="M129.05,340.17 C131.75,338.89 134.9,338.71 137.6,339.62" fill="none" stroke="#474747" stroke-width="0.72" />
<ellipse cx="140.3" cy="338.34" rx="1.12" ry="1.8" fill="#2a2a2a" transform="rotate(18 140.3 338.34)"/>
<ellipse cx="140.39" cy="338.43" rx="0.63" ry="1.26" fill="#dcc8cc" transform="rotate(18 140.3 338.34)"/>
<text x="119.7" y="357" font-size="8.1" fill="#333" stroke="#333" stroke-width="0.05" textLength="29.1" lengthAdjust="spacingAndGlyphs" >C57Bl/6</text>
<polygon points="159,328.8 163.4,332.55 161,334.35 158,336.25 157.6,338.05 154.6,339.65 148.9,344.95 151.6,339.65 152.2,337.45 155.1,335.25 155.5,333.05" fill="#f0ea2a" stroke="#3a3a2a" stroke-width="0.6" />
<text x="160.3" y="344" font-size="8.1" fill="#333" stroke="#333" stroke-width="0.05" textLength="31.6" lengthAdjust="spacingAndGlyphs" >1000cGy</text>
<text x="7.6" y="410" font-size="10.8" fill="#111" font-weight="bold" >F</text>
<text x="19.2" y="425.8" font-size="8.1" fill="#333" stroke="#333" stroke-width="0.05" textLength="29.8" lengthAdjust="spacingAndGlyphs" >Vk*MYC</text>
<line x1="33.5" y1="428" x2="38" y2="436.5" stroke="#999" stroke-width="0.7" stroke-dasharray="1.2 1"/>
<text x="7.1" y="444.7" font-size="8.1" fill="#333" stroke="#333" stroke-width="0.05" textLength="21.5" lengthAdjust="spacingAndGlyphs" >Donor</text>
<line x1="7.1" y1="446.4" x2="28.6" y2="446.4" stroke="#444" stroke-width="0.6" />
<path d="M44.51,441.86 C40.79,441.04 37.77,443.09 33.76,444.01" fill="none" stroke="#c8b6ba" stroke-width="0.9" stroke-linecap="round"/>
<path d="M44.3,441.86 C42.9,438.79 45.91,434.07 51.34,433.66 C54.35,433.46 57.16,434.28 58.97,435.3 C60.38,435.41 61.58,436.02 62.59,437.04 C63.79,438.38 64.9,439.61 65.5,440.53 L64.8,441.25 C63.89,441.45 62.89,441.86 62.19,442.48 L62.39,443.4 L60.78,443.4 L60.18,442.68 C57.36,442.48 54.35,442.48 52.34,442.78 L51.74,443.7 L49.13,443.7 L48.52,442.89 C46.72,442.89 45.11,442.58 44.3,441.86 Z" fill="#222" />
<path d="M47.82,436.33 C50.83,434.89 54.35,434.69 57.36,435.71" fill="none" stroke="#474747" stroke-width="0.8" />
<ellipse cx="60.38" cy="434.28" rx="1.26" ry="2.01" fill="#2a2a2a" transform="rotate(18 60.38 434.28)"/>
<ellipse cx="60.48" cy="434.38" rx="0.7" ry="1.41" fill="#dcc8cc" transform="rotate(18 60.38 434.28)"/>
<text x="68.3" y="437.4" font-size="8.1" fill="#333" stroke="#333" stroke-width="0.05" textLength="23.6" lengthAdjust="spacingAndGlyphs" >1 week</text>
<line x1="68.5" y1="440.4" x2="87.8" y2="440.4" stroke="#111" stroke-width="1" />
<polygon points="91.5,440.4 87.3,442.4 87.3,438.4" fill="#111" />
<text x="29.2" y="454.7" font-size="8.1" fill="#333" stroke="#333" stroke-width="0.05" textLength="55.4" lengthAdjust="spacingAndGlyphs" >Foxp3-GFPDTR</text>
<text x="91.1" y="419.4" font-size="8.1" fill="#333" stroke="#333" stroke-width="0.05" textLength="46.6" lengthAdjust="spacingAndGlyphs" >DT or vehicle</text>
<text x="91.5" y="428.6" font-size="8.1" fill="#333" stroke="#333" stroke-width="0.05" textLength="50.3" lengthAdjust="spacingAndGlyphs" >+ mobilization</text>
<path d="M104.45,442.09 C100.59,441.24 97.45,443.37 93.27,444.33" fill="none" stroke="#c8b6ba" stroke-width="0.94" stroke-linecap="round"/>
<path d="M104.25,442.09 C102.78,438.89 105.92,433.99 111.56,433.56 C114.7,433.35 117.63,434.2 119.51,435.27 C120.97,435.38 122.23,436.02 123.27,437.08 C124.53,438.47 125.68,439.75 126.3,440.71 L125.57,441.45 C124.63,441.67 123.59,442.09 122.85,442.73 L123.06,443.69 L121.39,443.69 L120.76,442.95 C117.84,442.73 114.7,442.73 112.61,443.05 L111.98,444.01 L109.26,444.01 L108.64,443.16 C106.75,443.16 105.08,442.84 104.25,442.09 Z" fill="#222" />
<path d="M107.9,436.34 C111.04,434.84 114.7,434.63 117.84,435.7" fill="none" stroke="#474747" stroke-width="0.84" />
<ellipse cx="120.97" cy="434.2" rx="1.31" ry="2.09" fill="#2a2a2a" transform="rotate(18 120.97 434.2)"/>
<ellipse cx="121.08" cy="434.31" rx="0.73" ry="1.46" fill="#dcc8cc" transform="rotate(18 120.97 434.2)"/>
<path d="M151.66,440.99 C147.78,440.13 144.62,442.27 140.43,443.24" fill="none" stroke="#c8b6ba" stroke-width="0.95" stroke-linecap="round"/>
<path d="M151.45,440.99 C149.98,437.77 153.13,432.85 158.8,432.42 C161.95,432.2 164.89,433.06 166.78,434.13 C168.25,434.24 169.51,434.88 170.56,435.95 C171.82,437.34 172.97,438.63 173.61,439.59 L172.87,440.34 C171.93,440.56 170.88,440.99 170.14,441.63 L170.35,442.59 L168.67,442.59 L168.04,441.84 C165.1,441.63 161.95,441.63 159.85,441.95 L159.22,442.91 L156.49,442.91 L155.86,442.06 C153.97,442.06 152.29,441.74 151.45,440.99 Z" fill="#222" />
<path d="M155.12,435.2 C158.28,433.7 161.95,433.49 165.1,434.56" fill="none" stroke="#474747" stroke-width="0.84" />
<ellipse cx="168.25" cy="433.06" rx="1.31" ry="2.1" fill="#2a2a2a" transform="rotate(18 168.25 433.06)"/>
<ellipse cx="168.35" cy="433.17" rx="0.73" ry="1.47" fill="#dcc8cc" transform="rotate(18 168.25 433.06)"/>
<text x="146.5" y="451.3" font-size="8.1" fill="#333" stroke="#333" stroke-width="0.05" textLength="28.6" lengthAdjust="spacingAndGlyphs" >C57Bl/6</text>
<text x="84.2" y="465.6" font-size="8.1" fill="#333" stroke="#333" stroke-width="0.05" textLength="37.3" lengthAdjust="spacingAndGlyphs" >CD8 T cell</text>
<text x="176" y="460" font-size="8.1" fill="#333" stroke="#333" stroke-width="0.05" text-anchor="middle" textLength="20.3" lengthAdjust="spacingAndGlyphs" >BM +</text>
<text x="157.3" y="469.7" font-size="8.1" fill="#333" stroke="#333" stroke-width="0.05" textLength="38.1" lengthAdjust="spacingAndGlyphs" >CD4 T cell</text>
<line x1="119.7" y1="451.2" x2="128.16" y2="471.19" stroke="#111" stroke-width="1" />
<polygon points="129.6,474.6 126.12,471.51 129.81,469.95" fill="#111" />
<line x1="154.3" y1="456.5" x2="148.3" y2="471.18" stroke="#111" stroke-width="1" />
<polygon points="146.9,474.6 146.64,469.96 150.34,471.47" fill="#111" />
<text x="39.4" y="472.4" font-size="8.1" fill="#333" stroke="#333" stroke-width="0.05" textLength="28.9" lengthAdjust="spacingAndGlyphs" >Vk*MYC</text>
<line x1="53" y1="474.5" x2="57.5" y2="483" stroke="#999" stroke-width="0.7" stroke-dasharray="1.2 1"/>
<text x="15" y="490.7" font-size="8.1" fill="#333" stroke="#333" stroke-width="0.05" textLength="32.7" lengthAdjust="spacingAndGlyphs" >Recipient</text>
<line x1="15" y1="492.4" x2="47.7" y2="492.4" stroke="#444" stroke-width="0.6" />
<path d="M62.53,489.19 C58.43,488.28 55.1,490.55 50.66,491.57" fill="none" stroke="#c8b6ba" stroke-width="1" stroke-linecap="round"/>
<path d="M62.31,489.19 C60.76,485.8 64.08,480.59 70.07,480.14 C73.4,479.91 76.51,480.82 78.5,481.95 C80.05,482.06 81.39,482.74 82.49,483.87 C83.83,485.34 85.05,486.7 85.71,487.72 L84.93,488.51 C83.94,488.74 82.83,489.19 82.05,489.87 L82.27,490.89 L80.5,490.89 L79.83,490.09 C76.73,489.87 73.4,489.87 71.18,490.21 L70.52,491.23 L67.63,491.23 L66.97,490.32 C64.97,490.32 63.2,489.98 62.31,489.19 Z" fill="#222" />
<path d="M66.19,483.08 C69.52,481.5 73.4,481.27 76.73,482.4" fill="none" stroke="#474747" stroke-width="0.89" />
<ellipse cx="80.05" cy="480.82" rx="1.39" ry="2.22" fill="#2a2a2a" transform="rotate(18 80.05 480.82)"/>
<ellipse cx="80.17" cy="480.93" rx="0.78" ry="1.55" fill="#dcc8cc" transform="rotate(18 80.05 480.82)"/>
<text x="57.7" y="500.3" font-size="8.1" fill="#333" stroke="#333" stroke-width="0.05" textLength="28.8" lengthAdjust="spacingAndGlyphs" >C57Bl/6</text>
<text x="89.7" y="484.3" font-size="8.1" fill="#333" stroke="#333" stroke-width="0.05" textLength="25.4" lengthAdjust="spacingAndGlyphs" >2 week</text>
<line x1="89.7" y1="487.8" x2="111.1" y2="487.8" stroke="#111" stroke-width="1" />
<polygon points="114.8,487.8 110.6,489.8 110.6,485.8" fill="#111" />
<path d="M129.63,490.36 C126.15,489.6 123.33,491.52 119.56,492.38" fill="none" stroke="#c8b6ba" stroke-width="0.85" stroke-linecap="round"/>
<path d="M129.44,490.36 C128.12,487.49 130.95,483.07 136.03,482.69 C138.85,482.49 141.48,483.26 143.18,484.22 C144.5,484.32 145.62,484.89 146.57,485.85 C147.69,487.1 148.73,488.25 149.29,489.12 L148.64,489.79 C147.79,489.98 146.85,490.36 146.19,490.94 L146.38,491.8 L144.87,491.8 L144.31,491.13 C141.67,490.94 138.85,490.94 136.97,491.23 L136.4,492.09 L133.96,492.09 L133.39,491.32 C131.7,491.32 130.19,491.04 129.44,490.36 Z" fill="#222" />
<path d="M132.73,485.18 C135.56,483.84 138.85,483.65 141.67,484.61" fill="none" stroke="#474747" stroke-width="0.75" />
<ellipse cx="144.5" cy="483.26" rx="1.18" ry="1.88" fill="#2a2a2a" transform="rotate(18 144.5 483.26)"/>
<ellipse cx="144.59" cy="483.36" rx="0.66" ry="1.32" fill="#dcc8cc" transform="rotate(18 144.5 483.26)"/>
<text x="125" y="500.5" font-size="8.1" fill="#333" stroke="#333" stroke-width="0.05" textLength="29.3" lengthAdjust="spacingAndGlyphs" >C57Bl/6</text>
<polygon points="164.9,472.6 169.21,476.28 166.86,478.04 163.92,479.9 163.53,481.67 160.59,483.23 155,488.43 157.65,483.23 158.23,481.08 161.08,478.92 161.47,476.77" fill="#f0ea2a" stroke="#3a3a2a" stroke-width="0.6" />
<text x="164.2" y="488.3" font-size="8.1" fill="#333" stroke="#333" stroke-width="0.05" textLength="31.2" lengthAdjust="spacingAndGlyphs" >1000cGy</text>
<text x="207.6" y="264.2" font-size="10.8" fill="#111" font-weight="bold" >E</text>
<polygon points="253.6,339.6 327.5,272.3 327.5,293.3 253.6,343.6" fill="#b9c5e6" opacity="0.85"/>
<polygon points="253.6,339.8 327.5,331.1 327.5,351.5 253.6,342.8" fill="#f3b9b0" opacity="0.85"/>
<line x1="245.2" y1="322.2" x2="335.7" y2="322.2" stroke="#959595" stroke-width="0.65" />
<circle cx="250.8" cy="336.3" r="1.5" fill="#1d4880"/>
<circle cx="250.8" cy="338.28" r="1.5" fill="#1d4880"/>
<circle cx="250.8" cy="340.26" r="1.5" fill="#1d4880"/>
<circle cx="250.8" cy="342.24" r="1.5" fill="#1d4880"/>
<circle cx="250.8" cy="344.22" r="1.5" fill="#1d4880"/>
<circle cx="250.8" cy="346.2" r="1.5" fill="#1d4880"/>
<circle cx="269.5" cy="316.2" r="1.5" fill="#1d4880"/>
<circle cx="269.5" cy="318.07" r="1.5" fill="#1d4880"/>
<circle cx="269.5" cy="319.95" r="1.5" fill="#1d4880"/>
<circle cx="269.5" cy="321.82" r="1.5" fill="#1d4880"/>
<circle cx="269.5" cy="323.7" r="1.5" fill="#1d4880"/>
<circle cx="269.5" cy="327.7" r="1.55" fill="#1d4880"/>
<circle cx="269.5" cy="341.5" r="1.55" fill="#1d4880"/>
<circle cx="269.5" cy="348.2" r="1.55" fill="#1d4880"/>
<circle cx="288.3" cy="295.4" r="1.5" fill="#1d4880"/>
<circle cx="288.3" cy="297.3" r="1.5" fill="#1d4880"/>
<circle cx="288.3" cy="299.2" r="1.5" fill="#1d4880"/>
<circle cx="288.3" cy="301.1" r="1.5" fill="#1d4880"/>
<circle cx="288.3" cy="303" r="1.5" fill="#1d4880"/>
<circle cx="288.3" cy="304.9" r="1.5" fill="#1d4880"/>
<circle cx="288.3" cy="306.8" r="1.5" fill="#1d4880"/>
<circle cx="288.3" cy="308.7" r="1.5" fill="#1d4880"/>
<circle cx="288.3" cy="328.6" r="1.55" fill="#1d4880"/>
<circle cx="288.3" cy="334.6" r="1.55" fill="#1d4880"/>
<circle cx="288.3" cy="344.4" r="1.55" fill="#1d4880"/>
<circle cx="306.6" cy="296.6" r="1.55" fill="#1d4880"/>
<circle cx="306.6" cy="309.4" r="1.55" fill="#1d4880"/>
<circle cx="306.6" cy="322.1" r="1.55" fill="#1d4880"/>
<circle cx="306.6" cy="338.9" r="1.55" fill="#1d4880"/>
<circle cx="325.3" cy="296.6" r="1.55" fill="#1d4880"/>
<circle cx="325.3" cy="332.9" r="1.55" fill="#1d4880"/>
<circle cx="253.7" cy="339.8" r="1.5" fill="#c4213a"/>
<circle cx="253.7" cy="341.93" r="1.5" fill="#c4213a"/>
<circle cx="253.7" cy="344.07" r="1.5" fill="#c4213a"/>
<circle cx="253.7" cy="346.2" r="1.5" fill="#c4213a"/>
<circle cx="272.5" cy="336.9" r="1.55" fill="#c4213a"/>
<circle cx="272.5" cy="340.4" r="1.5" fill="#c4213a"/>
<circle cx="272.5" cy="342.13" r="1.5" fill="#c4213a"/>
<circle cx="272.5" cy="343.87" r="1.5" fill="#c4213a"/>
<circle cx="272.5" cy="345.6" r="1.5" fill="#c4213a"/>
<circle cx="290.9" cy="335.2" r="1.5" fill="#c4213a"/>
<circle cx="290.9" cy="336.93" r="1.5" fill="#c4213a"/>
<circle cx="290.9" cy="338.65" r="1.5" fill="#c4213a"/>
<circle cx="290.9" cy="340.38" r="1.5" fill="#c4213a"/>
<circle cx="290.9" cy="342.1" r="1.5" fill="#c4213a"/>
<circle cx="309.2" cy="339.5" r="1.5" fill="#c4213a"/>
<circle cx="309.2" cy="341.57" r="1.5" fill="#c4213a"/>
<circle cx="309.2" cy="343.63" r="1.5" fill="#c4213a"/>
<circle cx="309.2" cy="345.7" r="1.5" fill="#c4213a"/>
<circle cx="328.2" cy="338.4" r="1.5" fill="#c4213a"/>
<circle cx="328.2" cy="340.16" r="1.5" fill="#c4213a"/>
<circle cx="328.2" cy="341.92" r="1.5" fill="#c4213a"/>
<circle cx="328.2" cy="343.68" r="1.5" fill="#c4213a"/>
<circle cx="328.2" cy="345.44" r="1.5" fill="#c4213a"/>
<circle cx="328.2" cy="347.2" r="1.5" fill="#c4213a"/>
<line x1="253.6" y1="341.6" x2="327.5" y2="282.8" stroke="#1d4880" stroke-width="1.3" />
<line x1="253.6" y1="341.3" x2="327.5" y2="341.3" stroke="#c4213a" stroke-width="1.3" />
<line x1="245.2" y1="267.7" x2="245.2" y2="357.1" stroke="#1e1e1e" stroke-width="1.25" />
<line x1="242.6" y1="274.1" x2="245.2" y2="274.1" stroke="#1e1e1e" stroke-width="1.12" />
<text x="238.9" y="277.2" font-size="8.8" fill="#333" stroke="#333" stroke-width="0.22" text-anchor="end" textLength="4.05" lengthAdjust="spacingAndGlyphs" >3</text>
<line x1="242.6" y1="285.3" x2="245.2" y2="285.3" stroke="#1e1e1e" stroke-width="1.12" />
<text x="238.9" y="288.4" font-size="8.8" fill="#333" stroke="#333" stroke-width="0.22" text-anchor="end" textLength="4.05" lengthAdjust="spacingAndGlyphs" >2</text>
<line x1="242.6" y1="296.5" x2="245.2" y2="296.5" stroke="#1e1e1e" stroke-width="1.12" />
<text x="238.9" y="299.6" font-size="8.8" fill="#333" stroke="#333" stroke-width="0.22" text-anchor="end" textLength="4.05" lengthAdjust="spacingAndGlyphs" >1</text>
<line x1="242.6" y1="307.7" x2="245.2" y2="307.7" stroke="#1e1e1e" stroke-width="1.12" />
<text x="238.9" y="310.8" font-size="8.8" fill="#333" stroke="#333" stroke-width="0.22" text-anchor="end" textLength="4.05" lengthAdjust="spacingAndGlyphs" >0</text>
<line x1="242.6" y1="318.9" x2="245.2" y2="318.9" stroke="#1e1e1e" stroke-width="1.12" />
<text x="238.9" y="322" font-size="8.8" fill="#333" stroke="#333" stroke-width="0.22" text-anchor="end" textLength="8.15" lengthAdjust="spacingAndGlyphs" >&#8211;1</text>
<line x1="242.6" y1="330.1" x2="245.2" y2="330.1" stroke="#1e1e1e" stroke-width="1.12" />
<text x="238.9" y="333.2" font-size="8.8" fill="#333" stroke="#333" stroke-width="0.22" text-anchor="end" textLength="8.15" lengthAdjust="spacingAndGlyphs" >&#8211;2</text>
<line x1="242.6" y1="341.3" x2="245.2" y2="341.3" stroke="#1e1e1e" stroke-width="1.12" />
<text x="238.9" y="344.4" font-size="8.8" fill="#333" stroke="#333" stroke-width="0.22" text-anchor="end" textLength="8.15" lengthAdjust="spacingAndGlyphs" >&#8211;3</text>
<line x1="242.6" y1="352.5" x2="245.2" y2="352.5" stroke="#1e1e1e" stroke-width="1.12" />
<text x="238.9" y="355.6" font-size="8.8" fill="#333" stroke="#333" stroke-width="0.22" text-anchor="end" textLength="8.15" lengthAdjust="spacingAndGlyphs" >&#8211;4</text>
<line x1="244.7" y1="356.6" x2="334.5" y2="356.6" stroke="#1e1e1e" stroke-width="1.25" />
<line x1="253.6" y1="356.6" x2="253.6" y2="359" stroke="#1e1e1e" stroke-width="0.9" />
<text x="253.6" y="369.9" font-size="9.4" fill="#333" stroke="#333" stroke-width="0.22" text-anchor="middle" textLength="4.05" lengthAdjust="spacingAndGlyphs" >2</text>
<line x1="272.1" y1="356.6" x2="272.1" y2="359" stroke="#1e1e1e" stroke-width="0.9" />
<text x="272.1" y="369.9" font-size="9.4" fill="#333" stroke="#333" stroke-width="0.22" text-anchor="middle" textLength="4.05" lengthAdjust="spacingAndGlyphs" >4</text>
<line x1="290.6" y1="356.6" x2="290.6" y2="359" stroke="#1e1e1e" stroke-width="0.9" />
<text x="290.6" y="369.9" font-size="9.4" fill="#333" stroke="#333" stroke-width="0.22" text-anchor="middle" textLength="4.05" lengthAdjust="spacingAndGlyphs" >6</text>
<line x1="309.1" y1="356.6" x2="309.1" y2="359" stroke="#1e1e1e" stroke-width="0.9" />
<text x="309.1" y="369.9" font-size="9.4" fill="#333" stroke="#333" stroke-width="0.22" text-anchor="middle" textLength="4.05" lengthAdjust="spacingAndGlyphs" >8</text>
<line x1="327.6" y1="356.6" x2="327.6" y2="359" stroke="#1e1e1e" stroke-width="0.9" />
<text x="327.6" y="369.9" font-size="9.4" fill="#333" stroke="#333" stroke-width="0.22" text-anchor="middle" textLength="8.1" lengthAdjust="spacingAndGlyphs" >10</text>
<line x1="332.9" y1="280.4" x2="332.9" y2="341.6" stroke="#777" stroke-width="0.9" />
<circle cx="337.7" cy="309.8" r="1.15" fill="#2a2a2a"/>
<circle cx="341.3" cy="309.8" r="1.15" fill="#2a2a2a"/>
<circle cx="344.9" cy="309.8" r="1.15" fill="#2a2a2a"/>
<circle cx="348.5" cy="309.8" r="1.15" fill="#2a2a2a"/>
<line x1="248.2" y1="274.2" x2="253.8" y2="274.2" stroke="#1d4880" stroke-width="1" />
<circle cx="251" cy="274.2" r="1.5" fill="#1d4880"/>
<text x="257.2" y="276.9" font-size="8.6" fill="#333" stroke="#333" stroke-width="0.05" textLength="23" lengthAdjust="spacingAndGlyphs" >Vehicle</text>
<line x1="248.2" y1="285.4" x2="253.8" y2="285.4" stroke="#c4213a" stroke-width="1" />
<circle cx="251" cy="285.4" r="1.5" fill="#c4213a"/>
<text x="257.2" y="288.1" font-size="8.6" fill="#333" stroke="#333" stroke-width="0.05" textLength="8.7" lengthAdjust="spacingAndGlyphs" >DT</text>
<text x="224.6" y="311.7" font-size="9.6" fill="#333" stroke="#333" stroke-width="0.32" text-anchor="middle" textLength="40" lengthAdjust="spacingAndGlyphs" transform="rotate(-90 224.6 311.7)" >Log M-band</text>
<text x="290.3" y="382.4" font-size="9.4" fill="#333" stroke="#333" stroke-width="0.22" text-anchor="middle" textLength="52.2" lengthAdjust="spacingAndGlyphs" >Weeks post-SCT</text>
<text x="207.3" y="410.1" font-size="10.8" fill="#111" font-weight="bold" >G</text>
<polygon points="253.6,474.5 326.8,417.3 326.8,443.3 253.6,480.5" fill="#b9c5e6" opacity="0.85"/>
<polygon points="253.6,479 326.8,461.4 326.8,494.6 253.6,485" fill="#f3b9b0" opacity="0.85"/>
<line x1="245.3" y1="456.1" x2="334" y2="456.1" stroke="#959595" stroke-width="0.65" />
<circle cx="250.6" cy="476.1" r="1.5" fill="#1d4880"/>
<circle cx="250.6" cy="478.64" r="1.5" fill="#1d4880"/>
<circle cx="250.6" cy="481.18" r="1.5" fill="#1d4880"/>
<circle cx="250.6" cy="483.72" r="1.5" fill="#1d4880"/>
<circle cx="250.6" cy="486.26" r="1.5" fill="#1d4880"/>
<circle cx="250.6" cy="488.8" r="1.5" fill="#1d4880"/>
<circle cx="250.6" cy="495.1" r="1.55" fill="#1d4880"/>
<circle cx="250.6" cy="497.9" r="1.55" fill="#1d4880"/>
<circle cx="269.2" cy="443" r="1.5" fill="#1d4880"/>
<circle cx="269.2" cy="446" r="1.5" fill="#1d4880"/>
<circle cx="269.2" cy="449" r="1.5" fill="#1d4880"/>
<circle cx="269.2" cy="452" r="1.5" fill="#1d4880"/>
<circle cx="269.2" cy="455" r="1.5" fill="#1d4880"/>
<circle cx="269.2" cy="464.9" r="1.5" fill="#1d4880"/>
<circle cx="269.2" cy="468.05" r="1.5" fill="#1d4880"/>
<circle cx="269.2" cy="471.2" r="1.5" fill="#1d4880"/>
<circle cx="269.2" cy="474.35" r="1.5" fill="#1d4880"/>
<circle cx="269.2" cy="477.5" r="1.5" fill="#1d4880"/>
<circle cx="287.2" cy="419.6" r="1.55" fill="#1d4880"/>
<circle cx="287.2" cy="426.2" r="1.5" fill="#1d4880"/>
<circle cx="287.2" cy="429.8" r="1.5" fill="#1d4880"/>
<circle cx="287.2" cy="433.4" r="1.5" fill="#1d4880"/>
<circle cx="287.2" cy="437" r="1.5" fill="#1d4880"/>
<circle cx="287.2" cy="440.6" r="1.5" fill="#1d4880"/>
<circle cx="287.2" cy="444.2" r="1.5" fill="#1d4880"/>
<circle cx="287.2" cy="447.8" r="1.5" fill="#1d4880"/>
<circle cx="287.2" cy="451.4" r="1.5" fill="#1d4880"/>
<circle cx="287.2" cy="455" r="1.5" fill="#1d4880"/>
<circle cx="287.2" cy="467.7" r="1.55" fill="#1d4880"/>
<circle cx="287.2" cy="474" r="1.5" fill="#1d4880"/>
<circle cx="287.2" cy="476.1" r="1.5" fill="#1d4880"/>
<circle cx="287.2" cy="478.2" r="1.5" fill="#1d4880"/>
<circle cx="305.8" cy="422.8" r="1.55" fill="#1d4880"/>
<circle cx="305.8" cy="430.5" r="1.55" fill="#1d4880"/>
<circle cx="305.8" cy="435.3" r="1.55" fill="#1d4880"/>
<circle cx="305.8" cy="444" r="1.55" fill="#1d4880"/>
<circle cx="305.8" cy="467.7" r="1.55" fill="#1d4880"/>
<circle cx="305.8" cy="472" r="1.5" fill="#1d4880"/>
<circle cx="305.8" cy="474" r="1.5" fill="#1d4880"/>
<circle cx="305.8" cy="476" r="1.5" fill="#1d4880"/>
<circle cx="305.8" cy="478" r="1.5" fill="#1d4880"/>
<circle cx="305.8" cy="480" r="1.5" fill="#1d4880"/>
<circle cx="305.8" cy="482" r="1.5" fill="#1d4880"/>
<circle cx="305.8" cy="484" r="1.5" fill="#1d4880"/>
<circle cx="305.8" cy="486" r="1.5" fill="#1d4880"/>
<circle cx="324.7" cy="452.7" r="1.55" fill="#1d4880"/>
<circle cx="324.7" cy="466" r="1.5" fill="#1d4880"/>
<circle cx="324.7" cy="468" r="1.5" fill="#1d4880"/>
<circle cx="324.7" cy="470" r="1.5" fill="#1d4880"/>
<circle cx="324.7" cy="478" r="1.55" fill="#1d4880"/>
<circle cx="324.7" cy="483" r="1.55" fill="#1d4880"/>
<circle cx="324.7" cy="489" r="1.55" fill="#1d4880"/>
<circle cx="253.4" cy="481" r="1.5" fill="#c4213a"/>
<circle cx="253.4" cy="482.88" r="1.5" fill="#c4213a"/>
<circle cx="253.4" cy="484.77" r="1.5" fill="#c4213a"/>
<circle cx="253.4" cy="486.65" r="1.5" fill="#c4213a"/>
<circle cx="253.4" cy="488.53" r="1.5" fill="#c4213a"/>
<circle cx="253.4" cy="490.42" r="1.5" fill="#c4213a"/>
<circle cx="253.4" cy="492.3" r="1.5" fill="#c4213a"/>
<circle cx="271.7" cy="472.6" r="1.5" fill="#c4213a"/>
<circle cx="271.7" cy="474.54" r="1.5" fill="#c4213a"/>
<circle cx="271.7" cy="476.48" r="1.5" fill="#c4213a"/>
<circle cx="271.7" cy="478.41" r="1.5" fill="#c4213a"/>
<circle cx="271.7" cy="480.35" r="1.5" fill="#c4213a"/>
<circle cx="271.7" cy="482.29" r="1.5" fill="#c4213a"/>
<circle cx="271.7" cy="484.23" r="1.5" fill="#c4213a"/>
<circle cx="271.7" cy="486.16" r="1.5" fill="#c4213a"/>
<circle cx="271.7" cy="488.1" r="1.5" fill="#c4213a"/>
<circle cx="290.3" cy="471.2" r="1.5" fill="#c4213a"/>
<circle cx="290.3" cy="473.3" r="1.5" fill="#c4213a"/>
<circle cx="290.3" cy="475.4" r="1.5" fill="#c4213a"/>
<circle cx="290.3" cy="477.5" r="1.5" fill="#c4213a"/>
<circle cx="290.3" cy="479.6" r="1.5" fill="#c4213a"/>
<circle cx="308.5" cy="470.5" r="1.5" fill="#c4213a"/>
<circle cx="308.5" cy="472.5" r="1.5" fill="#c4213a"/>
<circle cx="308.5" cy="474.5" r="1.5" fill="#c4213a"/>
<circle cx="308.5" cy="476.5" r="1.5" fill="#c4213a"/>
<circle cx="308.5" cy="478.5" r="1.5" fill="#c4213a"/>
<circle cx="327.2" cy="470" r="1.5" fill="#c4213a"/>
<circle cx="327.2" cy="471.88" r="1.5" fill="#c4213a"/>
<circle cx="327.2" cy="473.75" r="1.5" fill="#c4213a"/>
<circle cx="327.2" cy="475.62" r="1.5" fill="#c4213a"/>
<circle cx="327.2" cy="477.5" r="1.5" fill="#c4213a"/>
<circle cx="327.2" cy="479.38" r="1.5" fill="#c4213a"/>
<circle cx="327.2" cy="481.25" r="1.5" fill="#c4213a"/>
<circle cx="327.2" cy="483.12" r="1.5" fill="#c4213a"/>
<circle cx="327.2" cy="485" r="1.5" fill="#c4213a"/>
<line x1="253.6" y1="477.5" x2="326.8" y2="430.3" stroke="#1d4880" stroke-width="1.3" />
<line x1="253.6" y1="482" x2="326.8" y2="478" stroke="#c4213a" stroke-width="1.3" />
<line x1="245.3" y1="413.2" x2="245.3" y2="502.5" stroke="#1e1e1e" stroke-width="1.25" />
<line x1="242.7" y1="420.9" x2="245.3" y2="420.9" stroke="#1e1e1e" stroke-width="1.12" />
<text x="239" y="424" font-size="8.8" fill="#333" stroke="#333" stroke-width="0.22" text-anchor="end" textLength="4.05" lengthAdjust="spacingAndGlyphs" >1</text>
<line x1="242.7" y1="436.5" x2="245.3" y2="436.5" stroke="#1e1e1e" stroke-width="1.12" />
<text x="239" y="439.6" font-size="8.8" fill="#333" stroke="#333" stroke-width="0.22" text-anchor="end" textLength="4.05" lengthAdjust="spacingAndGlyphs" >0</text>
<line x1="242.7" y1="452.1" x2="245.3" y2="452.1" stroke="#1e1e1e" stroke-width="1.12" />
<text x="239" y="455.2" font-size="8.8" fill="#333" stroke="#333" stroke-width="0.22" text-anchor="end" textLength="8.15" lengthAdjust="spacingAndGlyphs" >&#8211;1</text>
<line x1="242.7" y1="467.7" x2="245.3" y2="467.7" stroke="#1e1e1e" stroke-width="1.12" />
<text x="239" y="470.8" font-size="8.8" fill="#333" stroke="#333" stroke-width="0.22" text-anchor="end" textLength="8.15" lengthAdjust="spacingAndGlyphs" >&#8211;2</text>
<line x1="242.7" y1="483.3" x2="245.3" y2="483.3" stroke="#1e1e1e" stroke-width="1.12" />
<text x="239" y="486.4" font-size="8.8" fill="#333" stroke="#333" stroke-width="0.22" text-anchor="end" textLength="8.15" lengthAdjust="spacingAndGlyphs" >&#8211;3</text>
<line x1="242.7" y1="498.9" x2="245.3" y2="498.9" stroke="#1e1e1e" stroke-width="1.12" />
<text x="239" y="502" font-size="8.8" fill="#333" stroke="#333" stroke-width="0.22" text-anchor="end" textLength="8.15" lengthAdjust="spacingAndGlyphs" >&#8211;4</text>
<line x1="244.8" y1="502" x2="334.1" y2="502" stroke="#1e1e1e" stroke-width="1.25" />
<line x1="253.4" y1="502" x2="253.4" y2="504.4" stroke="#1e1e1e" stroke-width="0.9" />
<text x="253.4" y="514.7" font-size="9.4" fill="#333" stroke="#333" stroke-width="0.22" text-anchor="middle" textLength="4.05" lengthAdjust="spacingAndGlyphs" >2</text>
<line x1="271.8" y1="502" x2="271.8" y2="504.4" stroke="#1e1e1e" stroke-width="0.9" />
<text x="271.8" y="514.7" font-size="9.4" fill="#333" stroke="#333" stroke-width="0.22" text-anchor="middle" textLength="4.05" lengthAdjust="spacingAndGlyphs" >4</text>
<line x1="290.3" y1="502" x2="290.3" y2="504.4" stroke="#1e1e1e" stroke-width="0.9" />
<text x="290.3" y="514.7" font-size="9.4" fill="#333" stroke="#333" stroke-width="0.22" text-anchor="middle" textLength="4.05" lengthAdjust="spacingAndGlyphs" >6</text>
<line x1="308.7" y1="502" x2="308.7" y2="504.4" stroke="#1e1e1e" stroke-width="0.9" />
<text x="308.7" y="514.7" font-size="9.4" fill="#333" stroke="#333" stroke-width="0.22" text-anchor="middle" textLength="4.05" lengthAdjust="spacingAndGlyphs" >8</text>
<line x1="326.9" y1="502" x2="326.9" y2="504.4" stroke="#1e1e1e" stroke-width="0.9" />
<text x="326.9" y="514.7" font-size="9.4" fill="#333" stroke="#333" stroke-width="0.22" text-anchor="middle" textLength="8.1" lengthAdjust="spacingAndGlyphs" >10</text>
<line x1="332" y1="426.3" x2="332" y2="486.5" stroke="#777" stroke-width="0.9" />
<circle cx="336.9" cy="455" r="1.15" fill="#2a2a2a"/>
<circle cx="340.5" cy="455" r="1.15" fill="#2a2a2a"/>
<circle cx="344.1" cy="455" r="1.15" fill="#2a2a2a"/>
<circle cx="347.7" cy="455" r="1.15" fill="#2a2a2a"/>
<line x1="248.2" y1="419.6" x2="253.8" y2="419.6" stroke="#1d4880" stroke-width="1" />
<circle cx="251" cy="419.6" r="1.5" fill="#1d4880"/>
<text x="257.2" y="422.3" font-size="8.6" fill="#333" stroke="#333" stroke-width="0.05" textLength="23" lengthAdjust="spacingAndGlyphs" >Vehicle</text>
<line x1="248.2" y1="430.8" x2="253.8" y2="430.8" stroke="#c4213a" stroke-width="1" />
<circle cx="251" cy="430.8" r="1.5" fill="#c4213a"/>
<text x="257.2" y="433.5" font-size="8.6" fill="#333" stroke="#333" stroke-width="0.05" textLength="8.7" lengthAdjust="spacingAndGlyphs" >DT</text>
<text x="224.6" y="457" font-size="9.6" fill="#333" stroke="#333" stroke-width="0.32" text-anchor="middle" textLength="39.5" lengthAdjust="spacingAndGlyphs" transform="rotate(-90 224.6 457)" >Log M-band</text>
<text x="290.3" y="527.9" font-size="9.4" fill="#333" stroke="#333" stroke-width="0.22" text-anchor="middle" textLength="52.9" lengthAdjust="spacingAndGlyphs" >Weeks post-SCT</text>
<line x1="391.5" y1="279.8" x2="391.5" y2="357.1" stroke="#1e1e1e" stroke-width="1.25" />
<line x1="388.9" y1="356.6" x2="391.5" y2="356.6" stroke="#1e1e1e" stroke-width="1.12" />
<text x="386.9" y="359.7" font-size="8.8" fill="#333" stroke="#333" stroke-width="0.22" text-anchor="end" textLength="4.05" lengthAdjust="spacingAndGlyphs" >0</text>
<line x1="388.9" y1="341.44" x2="391.5" y2="341.44" stroke="#1e1e1e" stroke-width="1.12" />
<text x="386.9" y="344.54" font-size="8.8" fill="#333" stroke="#333" stroke-width="0.22" text-anchor="end" textLength="8.1" lengthAdjust="spacingAndGlyphs" >20</text>
<line x1="388.9" y1="326.28" x2="391.5" y2="326.28" stroke="#1e1e1e" stroke-width="1.12" />
<text x="386.9" y="329.38" font-size="8.8" fill="#333" stroke="#333" stroke-width="0.22" text-anchor="end" textLength="8.1" lengthAdjust="spacingAndGlyphs" >40</text>
<line x1="388.9" y1="311.12" x2="391.5" y2="311.12" stroke="#1e1e1e" stroke-width="1.12" />
<text x="386.9" y="314.22" font-size="8.8" fill="#333" stroke="#333" stroke-width="0.22" text-anchor="end" textLength="8.1" lengthAdjust="spacingAndGlyphs" >60</text>
<line x1="388.9" y1="295.96" x2="391.5" y2="295.96" stroke="#1e1e1e" stroke-width="1.12" />
<text x="386.9" y="299.06" font-size="8.8" fill="#333" stroke="#333" stroke-width="0.22" text-anchor="end" textLength="8.1" lengthAdjust="spacingAndGlyphs" >80</text>
<line x1="388.9" y1="280.8" x2="391.5" y2="280.8" stroke="#1e1e1e" stroke-width="1.12" />
<text x="386.9" y="283.9" font-size="8.8" fill="#333" stroke="#333" stroke-width="0.22" text-anchor="end" textLength="12.15" lengthAdjust="spacingAndGlyphs" >100</text>
<line x1="391" y1="356.6" x2="468.5" y2="356.6" stroke="#1e1e1e" stroke-width="1.25" />
<line x1="391.5" y1="356.6" x2="391.5" y2="359" stroke="#1e1e1e" stroke-width="0.9" />
<text x="391.5" y="369.3" font-size="8.8" fill="#333" stroke="#333" stroke-width="0.22" text-anchor="middle" textLength="4.05" lengthAdjust="spacingAndGlyphs" >0</text>
<line x1="406.6" y1="356.6" x2="406.6" y2="359" stroke="#1e1e1e" stroke-width="0.9" />
<text x="406.6" y="369.3" font-size="8.8" fill="#333" stroke="#333" stroke-width="0.22" text-anchor="middle" textLength="8.1" lengthAdjust="spacingAndGlyphs" >20</text>
<line x1="421.7" y1="356.6" x2="421.7" y2="359" stroke="#1e1e1e" stroke-width="0.9" />
<text x="421.7" y="369.3" font-size="8.8" fill="#333" stroke="#333" stroke-width="0.22" text-anchor="middle" textLength="8.1" lengthAdjust="spacingAndGlyphs" >40</text>
<line x1="436.8" y1="356.6" x2="436.8" y2="359" stroke="#1e1e1e" stroke-width="0.9" />
<text x="436.8" y="369.3" font-size="8.8" fill="#333" stroke="#333" stroke-width="0.22" text-anchor="middle" textLength="8.1" lengthAdjust="spacingAndGlyphs" >60</text>
<line x1="451.9" y1="356.6" x2="451.9" y2="359" stroke="#1e1e1e" stroke-width="0.9" />
<text x="451.9" y="369.3" font-size="8.8" fill="#333" stroke="#333" stroke-width="0.22" text-anchor="middle" textLength="8.1" lengthAdjust="spacingAndGlyphs" >80</text>
<line x1="467" y1="356.6" x2="467" y2="359" stroke="#1e1e1e" stroke-width="0.9" />
<text x="467" y="369.3" font-size="8.8" fill="#333" stroke="#333" stroke-width="0.22" text-anchor="middle" textLength="12.15" lengthAdjust="spacingAndGlyphs" >100</text>
<line x1="391.5" y1="280.8" x2="468.1" y2="280.8" stroke="#d62850" stroke-width="1.4" />
<polyline points="427.7,281.5 427.7,289 428.6,289 428.6,303.4 432.3,303.4 432.3,318.8 433.9,318.8 433.9,326.5 441.5,326.5 441.5,333.6 443.8,333.6 443.8,341.2 451.6,341.2 451.6,348.8 465.9,348.8 465.9,356.6" fill="none" stroke="#2d5595" stroke-width="1.4" />
<polyline points="471,282.7 474.4,282.7 474.4,349.2 471,349.2" fill="none" stroke="#444" stroke-width="0.9" />
<circle cx="479.2" cy="314.7" r="1.15" fill="#2a2a2a"/>
<circle cx="482.8" cy="314.7" r="1.15" fill="#2a2a2a"/>
<circle cx="486.4" cy="314.7" r="1.15" fill="#2a2a2a"/>
<circle cx="490" cy="314.7" r="1.15" fill="#2a2a2a"/>
<text x="429.6" y="276.3" font-size="8.6" fill="#d62850" text-anchor="middle" textLength="51.4" lengthAdjust="spacingAndGlyphs" >Treg depleted</text>
<text x="403.5" y="335.7" font-size="8.6" fill="#2d5595" textLength="32.7" lengthAdjust="spacingAndGlyphs" >Non Treg</text>
<text x="403.9" y="344.2" font-size="8.6" fill="#2d5595" textLength="32.3" lengthAdjust="spacingAndGlyphs" >depleted</text>
<text x="367.3" y="317.2" font-size="9.6" fill="#333" stroke="#333" stroke-width="0.22" text-anchor="middle" textLength="38" lengthAdjust="spacingAndGlyphs" transform="rotate(-90 367.3 317.2)" >Survival (%)</text>
<text x="431.6" y="382" font-size="9.4" fill="#333" stroke="#333" stroke-width="0.22" text-anchor="middle" textLength="46.2" lengthAdjust="spacingAndGlyphs" >Days after SCT</text>
<line x1="391.5" y1="423.4" x2="391.5" y2="502.5" stroke="#1e1e1e" stroke-width="1.25" />
<line x1="388.9" y1="502" x2="391.5" y2="502" stroke="#1e1e1e" stroke-width="1.12" />
<text x="386.9" y="505.1" font-size="8.8" fill="#333" stroke="#333" stroke-width="0.22" text-anchor="end" textLength="4.05" lengthAdjust="spacingAndGlyphs" >0</text>
<line x1="388.9" y1="486.48" x2="391.5" y2="486.48" stroke="#1e1e1e" stroke-width="1.12" />
<text x="386.9" y="489.58" font-size="8.8" fill="#333" stroke="#333" stroke-width="0.22" text-anchor="end" textLength="8.1" lengthAdjust="spacingAndGlyphs" >20</text>
<line x1="388.9" y1="470.96" x2="391.5" y2="470.96" stroke="#1e1e1e" stroke-width="1.12" />
<text x="386.9" y="474.06" font-size="8.8" fill="#333" stroke="#333" stroke-width="0.22" text-anchor="end" textLength="8.1" lengthAdjust="spacingAndGlyphs" >40</text>
<line x1="388.9" y1="455.44" x2="391.5" y2="455.44" stroke="#1e1e1e" stroke-width="1.12" />
<text x="386.9" y="458.54" font-size="8.8" fill="#333" stroke="#333" stroke-width="0.22" text-anchor="end" textLength="8.1" lengthAdjust="spacingAndGlyphs" >60</text>
<line x1="388.9" y1="439.92" x2="391.5" y2="439.92" stroke="#1e1e1e" stroke-width="1.12" />
<text x="386.9" y="443.02" font-size="8.8" fill="#333" stroke="#333" stroke-width="0.22" text-anchor="end" textLength="8.1" lengthAdjust="spacingAndGlyphs" >80</text>
<line x1="388.9" y1="424.4" x2="391.5" y2="424.4" stroke="#1e1e1e" stroke-width="1.12" />
<text x="386.9" y="427.5" font-size="8.8" fill="#333" stroke="#333" stroke-width="0.22" text-anchor="end" textLength="12.15" lengthAdjust="spacingAndGlyphs" >100</text>
<line x1="391" y1="502" x2="470.5" y2="502" stroke="#1e1e1e" stroke-width="1.25" />
<line x1="391.5" y1="502" x2="391.5" y2="504.4" stroke="#1e1e1e" stroke-width="0.9" />
<text x="391.5" y="514.4" font-size="8.8" fill="#333" stroke="#333" stroke-width="0.22" text-anchor="middle" textLength="4.05" lengthAdjust="spacingAndGlyphs" >0</text>
<line x1="407.06" y1="502" x2="407.06" y2="504.4" stroke="#1e1e1e" stroke-width="0.9" />
<text x="407.06" y="514.4" font-size="8.8" fill="#333" stroke="#333" stroke-width="0.22" text-anchor="middle" textLength="8.1" lengthAdjust="spacingAndGlyphs" >20</text>
<line x1="422.62" y1="502" x2="422.62" y2="504.4" stroke="#1e1e1e" stroke-width="0.9" />
<text x="422.62" y="514.4" font-size="8.8" fill="#333" stroke="#333" stroke-width="0.22" text-anchor="middle" textLength="8.1" lengthAdjust="spacingAndGlyphs" >40</text>
<line x1="438.18" y1="502" x2="438.18" y2="504.4" stroke="#1e1e1e" stroke-width="0.9" />
<text x="438.18" y="514.4" font-size="8.8" fill="#333" stroke="#333" stroke-width="0.22" text-anchor="middle" textLength="8.1" lengthAdjust="spacingAndGlyphs" >60</text>
<line x1="453.74" y1="502" x2="453.74" y2="504.4" stroke="#1e1e1e" stroke-width="0.9" />
<text x="453.74" y="514.4" font-size="8.8" fill="#333" stroke="#333" stroke-width="0.22" text-anchor="middle" textLength="8.1" lengthAdjust="spacingAndGlyphs" >80</text>
<line x1="469.3" y1="502" x2="469.3" y2="504.4" stroke="#1e1e1e" stroke-width="0.9" />
<text x="469.3" y="514.4" font-size="8.8" fill="#333" stroke="#333" stroke-width="0.22" text-anchor="middle" textLength="12.15" lengthAdjust="spacingAndGlyphs" >100</text>
<line x1="391.5" y1="424.4" x2="469.6" y2="424.4" stroke="#d62850" stroke-width="1.4" />
<polyline points="426.3,425 426.3,445.2 432.1,445.2 432.1,450.4 433.1,450.4 433.1,456.2 434.6,456.2 434.6,461.5 435.6,461.5 435.6,471.2 437.9,471.2 437.9,476.3 439.8,476.3 439.8,481.5 441.2,481.5 441.2,491.2 469.6,491.2" fill="none" stroke="#2d5595" stroke-width="1.4" />
<polyline points="475.4,425 478.8,425 478.8,491.2 475.4,491.2" fill="none" stroke="#444" stroke-width="0.9" />
<circle cx="483" cy="457.7" r="1.15" fill="#2a2a2a"/>
<circle cx="486.6" cy="457.7" r="1.15" fill="#2a2a2a"/>
<circle cx="490.2" cy="457.7" r="1.15" fill="#2a2a2a"/>
<circle cx="493.8" cy="457.7" r="1.15" fill="#2a2a2a"/>
<text x="430.9" y="419.6" font-size="8.6" fill="#d62850" text-anchor="middle" textLength="50.6" lengthAdjust="spacingAndGlyphs" >Treg depleted</text>
<text x="401.7" y="481.6" font-size="8.6" fill="#2d5595" textLength="32.6" lengthAdjust="spacingAndGlyphs" >Non Treg</text>
<text x="403" y="490.8" font-size="8.6" fill="#2d5595" textLength="31.3" lengthAdjust="spacingAndGlyphs" >depleted</text>
<text x="367.3" y="461.9" font-size="9.6" fill="#333" stroke="#333" stroke-width="0.22" text-anchor="middle" textLength="39.2" lengthAdjust="spacingAndGlyphs" transform="rotate(-90 367.3 461.9)" >Survival (%)</text>
<text x="432" y="527" font-size="9.4" fill="#333" stroke="#333" stroke-width="0.22" text-anchor="middle" textLength="45.1" lengthAdjust="spacingAndGlyphs" >Days after SCT</text>
<text x="7.8" y="555.1" font-size="10.8" fill="#111" font-weight="bold" >H</text>
<line x1="53.3" y1="566" x2="53.3" y2="640.5" stroke="#1e1e1e" stroke-width="1.25" />
<line x1="50.5" y1="568" x2="53.3" y2="568" stroke="#1e1e1e" stroke-width="1.12" />
<text x="47.3" y="571.1" font-size="8.8" fill="#333" stroke="#333" stroke-width="0.22" text-anchor="end" textLength="12" lengthAdjust="spacingAndGlyphs" >1.0</text>
<line x1="50.5" y1="582.4" x2="53.3" y2="582.4" stroke="#1e1e1e" stroke-width="1.12" />
<text x="47.3" y="585.5" font-size="8.8" fill="#333" stroke="#333" stroke-width="0.22" text-anchor="end" textLength="12" lengthAdjust="spacingAndGlyphs" >0.5</text>
<line x1="50.5" y1="596.8" x2="53.3" y2="596.8" stroke="#1e1e1e" stroke-width="1.12" />
<text x="47.3" y="599.9" font-size="8.8" fill="#333" stroke="#333" stroke-width="0.22" text-anchor="end" textLength="12" lengthAdjust="spacingAndGlyphs" >0.0</text>
<line x1="50.5" y1="611.2" x2="53.3" y2="611.2" stroke="#1e1e1e" stroke-width="1.12" />
<text x="47.3" y="614.3" font-size="8.8" fill="#333" stroke="#333" stroke-width="0.22" text-anchor="end" textLength="16.1" lengthAdjust="spacingAndGlyphs" >&#8211;0.5</text>
<line x1="50.5" y1="625.6" x2="53.3" y2="625.6" stroke="#1e1e1e" stroke-width="1.12" />
<text x="47.3" y="628.7" font-size="8.8" fill="#333" stroke="#333" stroke-width="0.22" text-anchor="end" textLength="16.1" lengthAdjust="spacingAndGlyphs" >&#8211;1.0</text>
<line x1="50.5" y1="640" x2="53.3" y2="640" stroke="#1e1e1e" stroke-width="1.12" />
<text x="47.3" y="643.1" font-size="8.8" fill="#333" stroke="#333" stroke-width="0.22" text-anchor="end" textLength="16.1" lengthAdjust="spacingAndGlyphs" >&#8211;1.5</text>
<line x1="52.8" y1="640" x2="125.7" y2="640" stroke="#1e1e1e" stroke-width="1.25" />
<line x1="70.8" y1="640" x2="70.8" y2="642.4" stroke="#1e1e1e" stroke-width="0.9" />
<line x1="104.4" y1="640" x2="104.4" y2="642.4" stroke="#1e1e1e" stroke-width="0.9" />
<line x1="54.5" y1="612.5" x2="123.4" y2="612.5" stroke="#333" stroke-width="1" stroke-dasharray="1 1.3"/>
<text x="71.4" y="653.2" font-size="9" fill="#333" stroke="#333" stroke-width="0.22" text-anchor="middle" textLength="22" lengthAdjust="spacingAndGlyphs" >+4wks</text>
<text x="105.1" y="653.2" font-size="9" fill="#333" stroke="#333" stroke-width="0.22" text-anchor="middle" textLength="22.2" lengthAdjust="spacingAndGlyphs" >+6wks</text>
<text x="27" y="601.9" font-size="9.6" fill="#333" stroke="#333" stroke-width="0.22" text-anchor="middle" textLength="58" lengthAdjust="spacingAndGlyphs" transform="rotate(-90 27 601.9)" >M-band (log G/A)</text>
<polyline points="62.2,588.6 62.2,584.2 79.8,584.2 79.8,588.6" fill="none" stroke="#444" stroke-width="0.9" />
<circle cx="67.4" cy="580.2" r="1.15" fill="#2a2a2a"/>
<circle cx="71" cy="580.2" r="1.15" fill="#2a2a2a"/>
<circle cx="74.6" cy="580.2" r="1.15" fill="#2a2a2a"/>
<polyline points="95.9,569.5 95.9,565.2 114.1,565.2 114.1,569.5" fill="none" stroke="#444" stroke-width="0.9" />
<circle cx="101.4" cy="561.2" r="1.15" fill="#2a2a2a"/>
<circle cx="105" cy="561.2" r="1.15" fill="#2a2a2a"/>
<circle cx="108.6" cy="561.2" r="1.15" fill="#2a2a2a"/>
<circle cx="60.2" cy="629.6" r="1.6" fill="#34a336"/>
<circle cx="62" cy="630.6" r="1.6" fill="#34a336"/>
<circle cx="63.8" cy="630" r="1.6" fill="#34a336"/>
<circle cx="65.6" cy="630.8" r="1.6" fill="#34a336"/>
<circle cx="67.4" cy="630.2" r="1.6" fill="#34a336"/>
<circle cx="69.2" cy="630.4" r="1.6" fill="#34a336"/>
<circle cx="61" cy="628.8" r="1.6" fill="#34a336"/>
<circle cx="66.5" cy="629.2" r="1.6" fill="#34a336"/>
<circle cx="94.5" cy="626.3" r="1.6" fill="#34a336"/>
<circle cx="96.3" cy="627" r="1.6" fill="#34a336"/>
<circle cx="98.1" cy="626" r="1.6" fill="#34a336"/>
<circle cx="99.9" cy="626.8" r="1.6" fill="#34a336"/>
<circle cx="101.7" cy="626.2" r="1.6" fill="#34a336"/>
<circle cx="103.5" cy="627" r="1.6" fill="#34a336"/>
<circle cx="97" cy="625.4" r="1.6" fill="#34a336"/>
<circle cx="100.8" cy="625.6" r="1.6" fill="#34a336"/>
<circle cx="98.8" cy="627.8" r="1.6" fill="#34a336"/>
<rect x="74.55" y="603.85" width="2.9" height="2.9" fill="#4b1a5e" />
<rect x="74.55" y="606.15" width="2.9" height="2.9" fill="#4b1a5e" />
<rect x="80.45" y="605.25" width="2.9" height="2.9" fill="#4b1a5e" />
<rect x="80.45" y="609.05" width="2.9" height="2.9" fill="#4b1a5e" />
<rect x="77.45" y="626.35" width="2.9" height="2.9" fill="#4b1a5e" />
<rect x="109.15" y="581.05" width="2.9" height="2.9" fill="#4b1a5e" />
<rect x="114.75" y="581.05" width="2.9" height="2.9" fill="#4b1a5e" />
<rect x="112.15" y="585.35" width="2.9" height="2.9" fill="#4b1a5e" />
<rect x="112.15" y="591.75" width="2.9" height="2.9" fill="#4b1a5e" />
<rect x="112.15" y="609.55" width="2.9" height="2.9" fill="#4b1a5e" />
<line x1="167.3" y1="566.7" x2="167.3" y2="640.5" stroke="#1e1e1e" stroke-width="1.25" />
<line x1="164.7" y1="640" x2="167.3" y2="640" stroke="#1e1e1e" stroke-width="1.12" />
<text x="162.7" y="643.1" font-size="8.8" fill="#333" stroke="#333" stroke-width="0.22" text-anchor="end" textLength="4.05" lengthAdjust="spacingAndGlyphs" >0</text>
<line x1="164.7" y1="625.54" x2="167.3" y2="625.54" stroke="#1e1e1e" stroke-width="1.12" />
<text x="162.7" y="628.64" font-size="8.8" fill="#333" stroke="#333" stroke-width="0.22" text-anchor="end" textLength="8.1" lengthAdjust="spacingAndGlyphs" >20</text>
<line x1="164.7" y1="611.08" x2="167.3" y2="611.08" stroke="#1e1e1e" stroke-width="1.12" />
<text x="162.7" y="614.18" font-size="8.8" fill="#333" stroke="#333" stroke-width="0.22" text-anchor="end" textLength="8.1" lengthAdjust="spacingAndGlyphs" >40</text>
<line x1="164.7" y1="596.62" x2="167.3" y2="596.62" stroke="#1e1e1e" stroke-width="1.12" />
<text x="162.7" y="599.72" font-size="8.8" fill="#333" stroke="#333" stroke-width="0.22" text-anchor="end" textLength="8.1" lengthAdjust="spacingAndGlyphs" >60</text>
<line x1="164.7" y1="582.16" x2="167.3" y2="582.16" stroke="#1e1e1e" stroke-width="1.12" />
<text x="162.7" y="585.26" font-size="8.8" fill="#333" stroke="#333" stroke-width="0.22" text-anchor="end" textLength="8.1" lengthAdjust="spacingAndGlyphs" >80</text>
<line x1="164.7" y1="567.7" x2="167.3" y2="567.7" stroke="#1e1e1e" stroke-width="1.12" />
<text x="162.7" y="570.8" font-size="8.8" fill="#333" stroke="#333" stroke-width="0.22" text-anchor="end" textLength="12.15" lengthAdjust="spacingAndGlyphs" >100</text>
<line x1="166.8" y1="640" x2="240.5" y2="640" stroke="#1e1e1e" stroke-width="1.25" />
<line x1="167.3" y1="640" x2="167.3" y2="642.4" stroke="#1e1e1e" stroke-width="0.9" />
<text x="167.3" y="652.4" font-size="8.8" fill="#333" stroke="#333" stroke-width="0.22" text-anchor="middle" textLength="4.05" lengthAdjust="spacingAndGlyphs" >0</text>
<line x1="191.4" y1="640" x2="191.4" y2="642.4" stroke="#1e1e1e" stroke-width="0.9" />
<text x="191.4" y="652.4" font-size="8.8" fill="#333" stroke="#333" stroke-width="0.22" text-anchor="middle" textLength="8.1" lengthAdjust="spacingAndGlyphs" >20</text>
<line x1="215.5" y1="640" x2="215.5" y2="642.4" stroke="#1e1e1e" stroke-width="0.9" />
<text x="215.5" y="652.4" font-size="8.8" fill="#333" stroke="#333" stroke-width="0.22" text-anchor="middle" textLength="8.1" lengthAdjust="spacingAndGlyphs" >40</text>
<line x1="239.6" y1="640" x2="239.6" y2="642.4" stroke="#1e1e1e" stroke-width="0.9" />
<text x="239.6" y="652.4" font-size="8.8" fill="#333" stroke="#333" stroke-width="0.22" text-anchor="middle" textLength="8.1" lengthAdjust="spacingAndGlyphs" >60</text>
<line x1="167.3" y1="567.7" x2="239.6" y2="567.7" stroke="#34a336" stroke-width="1.2" />
<polyline points="221.2,568.3 221.2,611.2 222.3,611.2 222.3,625.4 235.8,625.4 235.8,640" fill="none" stroke="#6a2c82" stroke-width="1.1" />
<polyline points="244,568 247.4,568 247.4,632.3 244,632.3" fill="none" stroke="#444" stroke-width="0.9" />
<circle cx="252.9" cy="599" r="1.15" fill="#2a2a2a"/>
<circle cx="256.5" cy="599" r="1.15" fill="#2a2a2a"/>
<circle cx="260.1" cy="599" r="1.15" fill="#2a2a2a"/>
<circle cx="263.7" cy="599" r="1.15" fill="#2a2a2a"/>
<text x="203.4" y="553.6" font-size="8.6" fill="#46b044" text-anchor="middle" textLength="62.3" lengthAdjust="spacingAndGlyphs" >Tumor controlled</text>
<text x="203.4" y="563.2" font-size="8.6" fill="#46b044" text-anchor="middle" textLength="39.3" lengthAdjust="spacingAndGlyphs" >after ASCT</text>
<text x="200.4" y="621.6" font-size="8.6" fill="#6a2c82" text-anchor="middle" textLength="19.2" lengthAdjust="spacingAndGlyphs" >Naive</text>
<text x="200.7" y="630.5" font-size="8.6" fill="#6a2c82" text-anchor="middle" textLength="26.1" lengthAdjust="spacingAndGlyphs" >control</text>
<text x="140.9" y="603" font-size="9.6" fill="#333" stroke="#333" stroke-width="0.22" text-anchor="middle" textLength="41.5" lengthAdjust="spacingAndGlyphs" transform="rotate(-90 140.9 603)" >Survival (%)</text>
<text x="205" y="666.6" font-size="9.4" fill="#333" stroke="#333" stroke-width="0.22" text-anchor="middle" textLength="73" lengthAdjust="spacingAndGlyphs" >Days after rechallenge</text>
<circle cx="273.7" cy="592.4" r="1.9" fill="#34a336"/>
<text x="279.4" y="595.2" font-size="8.1" fill="#333" stroke="#333" stroke-width="0.05" textLength="56.4" lengthAdjust="spacingAndGlyphs" >Tumor controlled</text>
<text x="279.4" y="603.5" font-size="8.1" fill="#333" stroke="#333" stroke-width="0.05" textLength="34.6" lengthAdjust="spacingAndGlyphs" >after ASCT</text>
<rect x="272.4" y="610.1" width="3.6" height="3.6" fill="#4b1a5e" />
<text x="279.4" y="614.5" font-size="8.1" fill="#333" stroke="#333" stroke-width="0.05" textLength="44.8" lengthAdjust="spacingAndGlyphs" >Naive control</text>
<text x="352" y="555" font-size="10.8" fill="#111" font-weight="bold" >I</text>
<line x1="391.9" y1="569.8" x2="391.9" y2="640.5" stroke="#1e1e1e" stroke-width="1.25" />
<line x1="389.3" y1="640" x2="391.9" y2="640" stroke="#1e1e1e" stroke-width="1.12" />
<text x="387.3" y="643.1" font-size="8.8" fill="#333" stroke="#333" stroke-width="0.22" text-anchor="end" textLength="4.05" lengthAdjust="spacingAndGlyphs" >0</text>
<line x1="389.3" y1="626.16" x2="391.9" y2="626.16" stroke="#1e1e1e" stroke-width="1.12" />
<text x="387.3" y="629.26" font-size="8.8" fill="#333" stroke="#333" stroke-width="0.22" text-anchor="end" textLength="8.1" lengthAdjust="spacingAndGlyphs" >20</text>
<line x1="389.3" y1="612.32" x2="391.9" y2="612.32" stroke="#1e1e1e" stroke-width="1.12" />
<text x="387.3" y="615.42" font-size="8.8" fill="#333" stroke="#333" stroke-width="0.22" text-anchor="end" textLength="8.1" lengthAdjust="spacingAndGlyphs" >40</text>
<line x1="389.3" y1="598.48" x2="391.9" y2="598.48" stroke="#1e1e1e" stroke-width="1.12" />
<text x="387.3" y="601.58" font-size="8.8" fill="#333" stroke="#333" stroke-width="0.22" text-anchor="end" textLength="8.1" lengthAdjust="spacingAndGlyphs" >60</text>
<line x1="389.3" y1="584.64" x2="391.9" y2="584.64" stroke="#1e1e1e" stroke-width="1.12" />
<text x="387.3" y="587.74" font-size="8.8" fill="#333" stroke="#333" stroke-width="0.22" text-anchor="end" textLength="8.1" lengthAdjust="spacingAndGlyphs" >80</text>
<line x1="389.3" y1="570.8" x2="391.9" y2="570.8" stroke="#1e1e1e" stroke-width="1.12" />
<text x="387.3" y="573.9" font-size="8.8" fill="#333" stroke="#333" stroke-width="0.22" text-anchor="end" textLength="12.15" lengthAdjust="spacingAndGlyphs" >100</text>
<line x1="391.4" y1="640" x2="461.5" y2="640" stroke="#1e1e1e" stroke-width="1.25" />
<line x1="391.9" y1="640" x2="391.9" y2="642.4" stroke="#1e1e1e" stroke-width="0.9" />
<text x="391.9" y="653.2" font-size="8.8" fill="#333" stroke="#333" stroke-width="0.22" text-anchor="middle" textLength="4.05" lengthAdjust="spacingAndGlyphs" >0</text>
<line x1="405.72" y1="640" x2="405.72" y2="642.4" stroke="#1e1e1e" stroke-width="0.9" />
<text x="405.72" y="653.2" font-size="8.8" fill="#333" stroke="#333" stroke-width="0.22" text-anchor="middle" textLength="8.1" lengthAdjust="spacingAndGlyphs" >20</text>
<line x1="419.54" y1="640" x2="419.54" y2="642.4" stroke="#1e1e1e" stroke-width="0.9" />
<text x="419.54" y="653.2" font-size="8.8" fill="#333" stroke="#333" stroke-width="0.22" text-anchor="middle" textLength="8.1" lengthAdjust="spacingAndGlyphs" >40</text>
<line x1="433.36" y1="640" x2="433.36" y2="642.4" stroke="#1e1e1e" stroke-width="0.9" />
<text x="433.36" y="653.2" font-size="8.8" fill="#333" stroke="#333" stroke-width="0.22" text-anchor="middle" textLength="8.1" lengthAdjust="spacingAndGlyphs" >60</text>
<line x1="447.18" y1="640" x2="447.18" y2="642.4" stroke="#1e1e1e" stroke-width="0.9" />
<text x="447.18" y="653.2" font-size="8.8" fill="#333" stroke="#333" stroke-width="0.22" text-anchor="middle" textLength="8.1" lengthAdjust="spacingAndGlyphs" >80</text>
<line x1="461" y1="640" x2="461" y2="642.4" stroke="#1e1e1e" stroke-width="0.9" />
<text x="461" y="653.2" font-size="8.8" fill="#333" stroke="#333" stroke-width="0.22" text-anchor="middle" textLength="12.15" lengthAdjust="spacingAndGlyphs" >100</text>
<polyline points="391.9,570.8 419.6,570.8 419.6,584.6 428.4,584.6 428.4,598.5 430.4,598.5 430.4,612.3 436.1,612.3 436.1,626.2 460.7,626.2" fill="none" stroke="#5a2a78" stroke-width="1.2" />
<polyline points="391.9,570.8 421.5,570.8 421.5,593.8 427.8,593.8 427.8,605.4 436.5,605.4 436.5,627.7 438.1,627.7 438.1,640" fill="none" stroke="#4da6dc" stroke-width="1.2" />
<text x="428.3" y="567.6" font-size="8.6" fill="#4da6dc" textLength="47.1" lengthAdjust="spacingAndGlyphs" >Survivor after</text>
<text x="428.3" y="577.2" font-size="8.6" fill="#4da6dc" textLength="51.1" lengthAdjust="spacingAndGlyphs" >1<tspan baseline-shift="super" font-size="70%">st</tspan> rechallenge</text>
<text x="440.6" y="616.9" font-size="8.6" fill="#6a2c82" textLength="46.2" lengthAdjust="spacingAndGlyphs" >Naive control</text>
<text x="367.3" y="605" font-size="9.6" fill="#333" stroke="#333" stroke-width="0.22" text-anchor="middle" textLength="38.4" lengthAdjust="spacingAndGlyphs" transform="rotate(-90 367.3 605)" >Survival (%)</text>
<text x="427.7" y="664.6" font-size="9.4" fill="#333" stroke="#333" stroke-width="0.22" text-anchor="middle" textLength="87.4" lengthAdjust="spacingAndGlyphs" >Days after 2nd rechallenge</text>
<rect x="0.5" y="0.5" width="519" height="674" fill="none" stroke="#5a5a5a" stroke-width="1.3"/>
</svg>
</body></html>
